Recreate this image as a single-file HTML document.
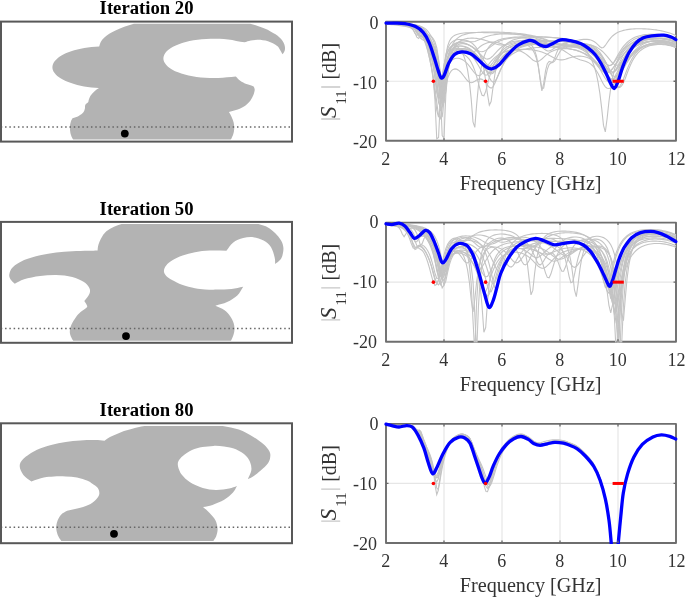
<!DOCTYPE html>
<html><head><meta charset="utf-8"><title>Figure</title>
<style>html,body{margin:0;padding:0;background:#fff;width:685px;height:597px;overflow:hidden}
svg{display:block;filter:blur(0.45px);font-family:"Liberation Serif",serif}</style></head>
<body>
<svg width="685" height="597" viewBox="0 0 685 597">
<text x="146.6" y="13.7" text-anchor="middle" font-family="Liberation Serif" font-weight="bold" font-size="18.7" fill="#000">Iteration 20</text>
<path d="M99.2 46.4C99.71 44.96 99.9 43.5 100.72 42.07C101.53 40.65 102.69 39.24 104.11 37.87C105.53 36.5 107.26 35.15 109.24 33.86C111.22 32.57 113.5 31.31 116.01 30.13C118.51 28.95 121.29 27.81 124.27 26.76C127.25 25.7 130.68 24.79 133.88 23.8L250.12 23.8C252.67 24.56 255.34 25.27 257.75 26.08C260.16 26.88 262.45 27.73 264.58 28.62C266.71 29.5 268.71 30.44 270.53 31.39C272.36 32.35 274.03 33.35 275.53 34.37C277.03 35.39 278.37 36.45 279.52 37.52C280.67 38.58 281.65 39.68 282.45 40.79C283.24 41.89 283.85 43.02 284.28 44.14C284.7 45.27 284.94 46.41 284.99 47.55C285.04 48.68 284.97 49.83 284.58 50.96C284.18 52.08 283.26 53.19 282.6 54.3C281.57 52.53 280.47 50.43 279.5 49C278.53 47.57 278.72 46.98 276.8 45.7C274.88 44.42 271.17 42.28 268 41.3C264.83 40.32 260.97 39.85 257.8 39.8C254.63 39.75 251.2 40.58 249 41C246.8 41.42 246.07 41.87 244.6 42.3C241.82 41.83 239.02 41.34 236.27 40.88C233.52 40.43 230.89 39.91 228.09 39.57C225.28 39.23 222.36 38.98 219.44 38.84C216.53 38.7 213.54 38.67 210.61 38.73C207.68 38.8 204.72 38.96 201.87 39.23C199.01 39.5 196.17 39.87 193.48 40.33C190.79 40.79 188.16 41.35 185.72 41.99C183.28 42.63 180.94 43.37 178.82 44.17C176.7 44.97 174.73 45.86 173 46.79C171.27 47.73 169.73 48.74 168.45 49.78C167.16 50.81 166.09 51.92 165.29 53.03C164.49 54.14 163.94 55.3 163.65 56.45C163.36 57.6 163.32 58.78 163.55 59.93C163.78 61.08 164.27 62.25 165.01 63.36C165.75 64.48 166.76 65.59 167.99 66.64C169.22 67.69 170.7 68.72 172.38 69.66C174.06 70.61 175.98 71.52 178.05 72.33C180.13 73.15 182.42 73.91 184.83 74.57C187.24 75.23 189.84 75.81 192.5 76.3C195.17 76.78 197.99 77.18 200.83 77.47C203.67 77.76 206.62 77.95 209.54 78.04C212.47 78.13 215.46 78.12 218.38 78C221.3 77.89 224.16 77.6 227.06 77.35C229.96 77.1 232.89 76.78 235.8 76.5C237.27 77.9 238.42 79.43 240.2 80.7C241.98 81.97 244.45 83.23 246.5 84.1C248.55 84.97 251.25 85.42 252.5 85.9C253.75 86.38 253.5 86.63 254 87C254.23 88.03 254.8 88.75 254.7 90.1C254.6 91.45 254.13 93.32 253.4 95.1C252.67 96.88 251.67 99.02 250.3 100.8C248.93 102.58 247.3 104.33 245.2 105.8C243.1 107.27 240.42 108.55 237.7 109.6C234.98 110.65 231.83 111.27 228.9 112.1C229.73 113.57 230.6 114.72 231.4 116.5C232.2 118.28 233.23 120.7 233.7 122.8C234.17 124.9 234.27 127.22 234.2 129.1C234.13 130.98 233.73 132.58 233.3 134.1C232.87 135.62 232.05 137.28 231.6 138.2C231.15 139.12 230.93 139.13 230.6 139.6L73.2 139.6C72.8 138.93 72.47 138.7 72 137.6C71.53 136.5 70.75 134.8 70.4 133C70.05 131.2 69.82 128.7 69.9 126.8C69.98 124.9 70.47 123.02 70.9 121.6C71.33 120.18 71.97 119.4 72.5 118.3C74.57 117.5 76.88 116.92 78.7 115.9C80.52 114.88 82.37 113.42 83.4 112.2C84.43 110.98 84.63 109.63 84.9 108.6C85.17 107.57 84.9 106.7 85 106C85.1 105.3 85.33 104.93 85.5 104.4C86.37 103.7 87.55 103.07 88.1 102.3C88.65 101.53 88.37 100.92 88.8 99.8C89.23 98.68 89.78 97 90.7 95.6C91.62 94.2 92.92 92.65 94.3 91.4C95.68 90.15 97.43 89.2 99 88.1C96.46 87.89 93.86 87.76 91.38 87.48C88.9 87.2 86.45 86.83 84.1 86.4C81.75 85.98 79.46 85.49 77.29 84.94C75.12 84.39 73.03 83.78 71.09 83.12C69.14 82.46 67.3 81.74 65.61 80.98C63.93 80.22 62.37 79.41 60.98 78.57C59.59 77.72 58.34 76.83 57.27 75.92C56.21 75.01 55.3 74.06 54.58 73.1C53.85 72.15 53.3 71.16 52.94 70.17C52.58 69.18 52.4 68.17 52.4 67.17C52.4 66.17 52.59 65.16 52.96 64.17C53.33 63.18 53.89 62.2 54.62 61.24C55.35 60.28 56.27 59.33 57.34 58.42C58.41 57.51 59.67 56.62 61.06 55.78C62.46 54.94 64.02 54.13 65.72 53.37C67.41 52.61 69.26 51.89 71.21 51.24C73.16 50.58 75.25 49.97 77.43 49.42C79.6 48.88 81.9 48.39 84.25 47.97C86.6 47.55 89.04 47.16 91.53 46.9C94.02 46.64 96.64 46.57 99.2 46.4Z" fill="#b3b3b3"/>
<path d="M0.75 127H291" stroke="#666" stroke-width="1.5" stroke-dasharray="1.5 2.795" fill="none"/>
<circle cx="124.8" cy="133.6" r="3.9" fill="#000"/>
<rect x="1.0" y="21.6" width="291.0" height="120" fill="none" stroke="#585858" stroke-width="2.0"/>
<text x="146.6" y="214.7" text-anchor="middle" font-family="Liberation Serif" font-weight="bold" font-size="18.7" fill="#000">Iteration 50</text>
<path d="M97.6 250.4C97.73 249.07 97.67 247.87 98 246.4C98.33 244.93 98.85 243.33 99.6 241.6C100.35 239.87 101.32 237.75 102.5 236C103.68 234.25 104.78 232.65 106.7 231.1C108.62 229.55 111.53 227.87 114 226.7C116.47 225.53 119 224.97 121.5 224.1L258.5 224.1C261.67 225.2 265.2 225.88 268 227.4C270.8 228.92 273.12 231.02 275.3 233.2C277.48 235.38 279.75 238.07 281.1 240.5C282.45 242.93 283.2 245.23 283.4 247.8C283.6 250.37 282.92 253.82 282.3 255.9C281.68 257.98 280.88 258.95 279.7 260.3C278.52 261.65 276.7 262.77 275.2 264C275 261.77 275.32 260.12 274.6 257.3C273.88 254.48 272.73 249.9 270.9 247.1C269.07 244.3 266.52 242.15 263.6 240.5C260.68 238.85 256.8 237.6 253.4 237.2C250 236.8 246.6 237.18 243.2 238.1C239.8 239.02 235.8 240.58 233 242.7C230.2 244.82 228.6 248.1 226.4 250.8C220.8 250.73 214.83 250.37 209.6 250.6C204.37 250.83 199.5 251.4 195 252.2C190.5 253 186.37 254.05 182.6 255.4C178.83 256.75 175.13 258.62 172.4 260.3C169.67 261.98 167.62 263.68 166.2 265.5C164.78 267.32 163.85 269.42 163.9 271.2C163.95 272.98 165.07 274.68 166.5 276.2C167.93 277.72 169.92 278.87 172.5 280.3C175.08 281.73 178.25 283.47 182 284.8C185.75 286.13 191.17 287.53 195 288.3C198.83 289.07 201.35 289.18 205 289.4C208.65 289.62 212.48 289.68 216.9 289.6C221.32 289.52 227.12 289.38 231.5 288.9C235.88 288.42 239.3 287.43 243.2 286.7C241.23 289.6 239.98 292.85 237.3 295.4C234.62 297.95 230.75 300.28 227.1 302C223.45 303.72 219.3 304.47 215.4 305.7C218.33 307.13 221.77 308.3 224.2 310C226.63 311.7 228.42 313.7 230 315.9C231.58 318.1 232.97 320.77 233.7 323.2C234.43 325.63 234.52 328.32 234.4 330.5C234.28 332.68 233.57 334.6 233 336.3C232.43 338 231.67 339.23 231 340.7L73.2 340.7C72.63 339.73 72.07 339.27 71.5 337.8C70.93 336.33 69.8 334.1 69.8 331.9C69.8 329.7 70.48 327.03 71.5 324.6C72.52 322.17 74.43 319.35 75.9 317.3C77.37 315.25 78.5 313.95 80.3 312.3C82.1 310.65 85.63 308.62 86.7 307.4C87.77 306.18 87.1 306.07 86.7 305C86.3 303.93 85.1 302.33 84.3 301C85.37 299.67 86.57 298.47 87.5 297C88.43 295.53 89.63 293.8 89.9 292.2C90.17 290.6 90.17 289.13 89.1 287.4C88.03 285.67 86.3 283.55 83.5 281.8C80.7 280.05 76.85 278.03 72.3 276.9C67.75 275.77 61.57 275.13 56.2 275C50.83 274.87 45.45 275.38 40.1 276.1C34.75 276.82 28.32 278.03 24.1 279.3C19.88 280.57 17.9 282.23 14.8 283.7C13.4 282.3 11.52 281.03 10.6 279.5C9.68 277.97 8.93 276.53 9.3 274.5C9.67 272.47 10.33 269.7 12.8 267.3C15.27 264.9 19.55 262.1 24.1 260.1C28.65 258.1 34.75 256.57 40.1 255.3C45.45 254.03 50.83 253.18 56.2 252.5C61.57 251.82 66.95 251.48 72.3 251.2C77.65 250.92 84.08 250.93 88.3 250.8C92.52 250.67 94.5 250.53 97.6 250.4Z" fill="#b3b3b3"/>
<path d="M0.75 328.4H291" stroke="#666" stroke-width="1.5" stroke-dasharray="1.5 2.795" fill="none"/>
<circle cx="126" cy="336.1" r="3.9" fill="#000"/>
<rect x="1.0" y="221.9" width="291.0" height="120.9" fill="none" stroke="#585858" stroke-width="2.0"/>
<text x="146.6" y="415.7" text-anchor="middle" font-family="Liberation Serif" font-weight="bold" font-size="18.7" fill="#000">Iteration 80</text>
<path d="M104.5 440.8C106.33 439.53 107.93 438.13 110 437C112.07 435.87 114.57 435 116.9 434C119.23 433 121.57 431.85 124 431C126.43 430.15 129.17 429.53 131.5 428.9C133.83 428.27 135.83 427.68 138 427.2C140.17 426.72 142.33 426.4 144.5 426L222.7 426C228.07 427.2 233.68 427.78 238.8 429.6C243.92 431.42 249.27 434.47 253.4 436.9C257.53 439.33 260.92 441.77 263.6 444.2C266.28 446.63 268.4 449.32 269.5 451.5C270.6 453.68 270.45 455.35 270.2 457.3C269.95 459.25 269.58 461 268 463.2C266.42 465.4 263.13 468.32 260.7 470.5C258.27 472.68 255.55 474.85 253.4 476.3C251.25 477.75 249.67 478.23 247.8 479.2C248.97 476.27 250.88 473.13 251.3 470.4C251.72 467.67 251.17 465.22 250.3 462.8C249.43 460.38 248.5 458.15 246.1 455.9C243.7 453.65 239.58 450.87 235.9 449.3C232.22 447.73 227.75 447.07 224 446.5C220.25 445.93 217.02 445.8 213.4 445.9C209.78 446 205.87 446.42 202.3 447.1C198.73 447.78 195.2 448.55 192 450C188.8 451.45 185.35 453.97 183.1 455.8C180.85 457.63 179.37 459.37 178.5 461C177.63 462.63 177.72 463.93 177.9 465.6C178.08 467.27 178.83 469.35 179.6 471C180.37 472.65 180.82 473.67 182.5 475.5C184.18 477.33 186.32 479.92 189.7 482C193.08 484.08 198.42 486.68 202.8 488C207.18 489.32 211.62 489.82 216 489.9C220.38 489.98 225.6 489.15 229.1 488.5C232.6 487.85 234.37 486.83 237 486C235.67 488.17 235.13 490.2 233 492.5C230.87 494.8 227.62 497.73 224.2 499.8C220.78 501.87 216.03 503.68 212.5 504.9C208.97 506.12 206.17 506.37 203 507.1C205.2 509.07 207.53 510.8 209.6 513C211.67 515.2 214.07 517.63 215.4 520.3C216.73 522.97 217.47 526.33 217.6 529C217.73 531.67 216.9 534.3 216.2 536.3C215.5 538.3 214.33 539.43 213.4 541L61.3 541C60.1 538.97 58.55 537.13 57.7 534.9C56.85 532.67 56.2 530.03 56.2 527.6C56.2 525.17 56.85 522.5 57.7 520.3C58.55 518.1 59.72 515.98 61.3 514.4C62.88 512.82 65.23 512 67.2 510.8C71.57 509.8 76.42 508.93 80.3 507.8C84.18 506.67 87.8 505.47 90.5 504C93.2 502.53 95.03 500.67 96.5 499C97.97 497.33 99.08 495.82 99.3 494C99.52 492.18 99.02 489.85 97.8 488.1C96.58 486.35 93.7 484.72 92 483.5C90.3 482.28 90.1 481.78 87.6 480.8C85.1 479.82 80.65 478.32 77 477.6C73.35 476.88 69.53 476.68 65.7 476.5C61.87 476.32 57.65 476.32 54 476.5C50.35 476.68 47.57 476.77 43.8 477.6C40.03 478.43 35.53 480.2 31.4 481.5C28.73 479.3 25.35 477.47 23.4 474.9C21.45 472.33 19.7 468.78 19.7 466.1C19.7 463.42 20.6 461.48 23.4 458.8C26.2 456.12 31.88 452.32 36.5 450C41.12 447.68 46.23 446.23 51.1 444.9C55.97 443.57 60.83 442.73 65.7 442C70.57 441.27 75.42 440.82 80.3 440.5C85.18 440.18 90.97 440.05 95 440.1C99.03 440.15 101.33 440.57 104.5 440.8Z" fill="#b3b3b3"/>
<path d="M0.75 527.3H291" stroke="#666" stroke-width="1.5" stroke-dasharray="1.5 2.795" fill="none"/>
<circle cx="114" cy="533.8" r="3.9" fill="#000"/>
<rect x="1.0" y="423.3" width="291.0" height="119.9" fill="none" stroke="#585858" stroke-width="2.0"/>
<clipPath id="pc0"><rect x="382" y="15.7" width="298" height="126"/></clipPath>
<path d="M444 21.7V140.8M502 21.7V140.8M560 21.7V140.8M618 21.7V140.8M386 81.25H676" stroke="#e6e6e6" stroke-width="1.2" fill="none"/>
<path d="M386 21.7V140.8H676V21.7Z" stroke="#6e6e6e" stroke-width="1.9" fill="none" stroke-linejoin="round"/>
<g clip-path="url(#pc0)" fill="none">
<path d="M386 23.01 387.81 23.07 389.62 23.14 391.44 23.21 393.25 23.29 395.06 23.38 396.88 23.48 398.69 23.59 400.5 23.72 402.31 23.85 404.12 24.01 405.94 24.19 407.75 24.4 409.56 24.64 411.38 24.92 413.19 25.26 415 25.66 416.81 26.16 418.62 26.79 420.44 27.61 422.25 28.7 424.06 30.18 425.88 32.2 427.69 34.89 429.5 38.37 431.31 42.7 433.12 48.12 434.94 55.13 436.75 64.55 438.56 77.08 440.38 90.69 442.19 94.51 444 83.56 445.81 70.18 447.62 59.81 449.44 52.43 451.25 47.24 453.06 43.54 454.88 40.85 456.69 38.87 458.5 37.38 460.31 36.24 462.12 35.35 463.94 34.66 465.75 34.1 467.56 33.66 469.38 33.3 471.19 33.01 473 32.78 474.81 32.58 476.62 32.43 478.44 32.31 480.25 32.21 482.06 32.13 483.88 32.08 485.69 32.04 487.5 32.02 489.31 32.01 491.12 32.01 492.94 32.03 494.75 32.05 496.56 32.09 498.38 32.14 500.19 32.2 502 32.27 503.81 32.35 505.62 32.45 507.44 32.55 509.25 32.67 511.06 32.8 512.88 32.94 514.69 33.09 516.5 33.26 518.31 33.45 520.12 33.66 521.94 33.88 523.75 34.12 525.56 34.39 527.38 34.68 529.19 34.99 531 35.33 532.81 35.71 534.62 36.11 536.44 36.55 538.25 37.03 540.06 37.54 541.88 38.09 543.69 38.69 545.5 39.31 547.31 39.98 549.12 40.67 550.94 41.39 552.75 42.12 554.56 42.85 556.38 43.55 558.19 44.23 560 44.84 561.81 45.37 563.62 45.81 565.44 46.15 567.25 46.38 569.06 46.51 570.88 46.56 572.69 46.54 574.5 46.48 576.31 46.41 578.12 46.37 579.94 46.37 581.75 46.45 583.56 46.63 585.38 46.94 587.19 47.4 589 48.04 590.81 48.89 592.62 49.95 594.44 51.27 596.25 52.84 598.06 54.68 599.88 56.74 601.69 58.97 603.5 61.2 605.31 63.24 607.12 64.77 608.94 65.5 610.75 65.24 612.56 63.99 614.38 61.92 616.19 59.34 618 56.55 619.81 53.76 621.62 51.12 623.44 48.71 625.25 46.56 627.06 44.67 628.88 43.02 630.69 41.59 632.5 40.36 634.31 39.31 636.12 38.41 637.94 37.65 639.75 37 641.56 36.46 643.38 36.01 645.19 35.65 647 35.36 648.81 35.13 650.62 34.97 652.44 34.87 654.25 34.83 656.06 34.84 657.88 34.91 659.69 35.03 661.5 35.2 663.31 35.44 665.12 35.73 666.94 36.09 668.75 36.52 670.56 37.03 672.38 37.61 674.19 38.29 676 39.06" stroke="#c4c4c4" stroke-width="1.1"/>
<path d="M386 22.72 387.81 22.76 389.62 22.8 391.44 22.85 393.25 22.9 395.06 22.96 396.88 23.02 398.69 23.09 400.5 23.16 402.31 23.26 404.12 23.37 405.94 23.53 407.75 23.79 409.56 24.26 411.38 25.15 413.19 26.79 415 29.3 416.81 32.13 418.62 34.44 420.44 35.96 422.25 36.95 424.06 37.74 425.88 38.54 427.69 39.53 429.5 40.85 431.31 42.77 433.12 45.69 434.94 50.44 436.75 58.63 438.56 73.09 440.38 93.15 442.19 89.92 444 70.56 445.81 58.27 447.62 51.68 449.44 48.19 451.25 46.42 453.06 45.72 454.88 45.75 456.69 46.4 458.5 47.66 460.31 49.59 462.12 52.38 463.94 56.33 465.75 61.92 467.56 69.92 469.38 81.61 471.19 98.91 473 122.01 474.81 127.37 476.62 104.84 478.44 85.51 480.25 72.33 482.06 63.29 483.88 56.93 485.69 52.35 487.5 48.98 489.31 46.45 491.12 44.52 492.94 43.02 494.75 41.84 496.56 40.9 498.38 40.13 500.19 39.51 502 39 503.81 38.58 505.62 38.23 507.44 37.93 509.25 37.69 511.06 37.48 512.88 37.31 514.69 37.16 516.5 37.04 518.31 36.94 520.12 36.86 521.94 36.8 523.75 36.75 525.56 36.71 527.38 36.69 529.19 36.68 531 36.68 532.81 36.69 534.62 36.71 536.44 36.74 538.25 36.78 540.06 36.83 541.88 36.89 543.69 36.97 545.5 37.05 547.31 37.14 549.12 37.24 550.94 37.36 552.75 37.49 554.56 37.64 556.38 37.8 558.19 37.98 560 38.17 561.81 38.39 563.62 38.63 565.44 38.9 567.25 39.19 569.06 39.51 570.88 39.88 572.69 40.28 574.5 40.72 576.31 41.22 578.12 41.78 579.94 42.41 581.75 43.11 583.56 43.9 585.38 44.79 587.19 45.8 589 46.95 590.81 48.24 592.62 49.71 594.44 51.37 596.25 53.24 598.06 55.34 599.88 57.66 601.69 60.19 603.5 62.87 605.31 65.58 607.12 68.15 608.94 70.32 610.75 71.78 612.56 72.28 614.38 71.68 616.19 70.09 618 67.73 619.81 64.92 621.62 61.94 623.44 58.98 625.25 56.19 627.06 53.64 628.88 51.34 630.69 49.31 632.5 47.53 634.31 45.98 636.12 44.63 637.94 43.48 639.75 42.49 641.56 41.65 643.38 40.94 645.19 40.34 647 39.85 648.81 39.45 650.62 39.14 652.44 38.9 654.25 38.74 656.06 38.65 657.88 38.62 659.69 38.66 661.5 38.76 663.31 38.93 665.12 39.17 666.94 39.48 668.75 39.87 670.56 40.33 672.38 40.88 674.19 41.52 676 42.27" stroke="#c4c4c4" stroke-width="1.1"/>
<path d="M386 23.1 387.81 23.16 389.62 23.22 391.44 23.29 393.25 23.37 395.06 23.45 396.88 23.54 398.69 23.65 400.5 23.76 402.31 23.88 404.12 24.02 405.94 24.18 407.75 24.36 409.56 24.56 411.38 24.8 413.19 25.09 415 25.44 416.81 25.87 418.62 26.43 420.44 27.18 422.25 28.22 424.06 29.68 425.88 31.74 427.69 34.53 429.5 38.05 431.31 42.25 433.12 47.18 434.94 53.28 436.75 61.53 438.56 73.49 440.38 90.58 442.19 106.44 444 98.61 445.81 80.65 447.62 67.39 449.44 58.77 451.25 53.2 453.06 49.56 454.88 47.16 456.69 45.59 458.5 44.59 460.31 44.02 462.12 43.77 463.94 43.78 465.75 44.04 467.56 44.52 469.38 45.22 471.19 46.14 473 47.3 474.81 48.69 476.62 50.31 478.44 52.12 480.25 54.05 482.06 55.93 483.88 57.57 485.69 58.69 487.5 59.08 489.31 58.65 491.12 57.48 492.94 55.8 494.75 53.86 496.56 51.87 498.38 49.99 500.19 48.28 502 46.78 503.81 45.49 505.62 44.39 507.44 43.48 509.25 42.72 511.06 42.11 512.88 41.63 514.69 41.26 516.5 41 518.31 40.86 520.12 40.82 521.94 40.91 523.75 41.14 525.56 41.55 527.38 42.2 529.19 43.17 531 44.64 532.81 46.87 534.62 50.36 536.44 56 538.25 65.27 540.06 79.31 541.88 90.81 543.69 83.44 545.5 70.95 547.31 63.72 549.12 61.42 550.94 62.07 552.75 62.06 554.56 58.44 556.38 53.33 558.19 49.21 560 46.45 561.81 44.68 563.62 43.56 565.44 42.87 567.25 42.47 569.06 42.28 570.88 42.26 572.69 42.36 574.5 42.58 576.31 42.91 578.12 43.35 579.94 43.88 581.75 44.53 583.56 45.3 585.38 46.2 587.19 47.25 589 48.46 590.81 49.85 592.62 51.45 594.44 53.26 596.25 55.31 598.06 57.6 599.88 60.12 601.69 62.82 603.5 65.6 605.31 68.28 607.12 70.64 608.94 72.37 610.75 73.18 612.56 72.93 614.38 71.65 616.19 69.56 618 66.95 619.81 64.11 621.62 61.26 623.44 58.55 625.25 56.05 627.06 53.79 628.88 51.79 630.69 50.02 632.5 48.48 634.31 47.15 636.12 46 637.94 45 639.75 44.16 641.56 43.43 643.38 42.82 645.19 42.31 647 41.89 648.81 41.56 650.62 41.3 652.44 41.1 654.25 40.98 656.06 40.92 657.88 40.92 659.69 40.98 661.5 41.1 663.31 41.29 665.12 41.54 666.94 41.87 668.75 42.26 670.56 42.73 672.38 43.29 674.19 43.94 676 44.69" stroke="#c4c4c4" stroke-width="1.1"/>
<path d="M386 22.84 387.81 22.88 389.62 22.92 391.44 22.97 393.25 23.02 395.06 23.07 396.88 23.13 398.69 23.19 400.5 23.26 402.31 23.35 404.12 23.44 405.94 23.57 407.75 23.77 409.56 24.1 411.38 24.73 413.19 25.95 415 28.08 416.81 31.04 418.62 34 420.44 36.17 422.25 37.53 424.06 38.44 425.88 39.19 427.69 40.01 429.5 41.03 431.31 42.45 433.12 44.53 434.94 47.77 436.75 53.17 438.56 62.73 440.38 80.05 442.19 102.01 444 89.88 445.81 69.09 447.62 57.28 449.44 50.9 451.25 47.32 453.06 45.26 454.88 44.05 456.69 43.38 458.5 43.05 460.31 42.99 462.12 43.13 463.94 43.44 465.75 43.92 467.56 44.56 469.38 45.37 471.19 46.38 473 47.6 474.81 49.06 476.62 50.78 478.44 52.8 480.25 55.1 482.06 57.64 483.88 60.3 485.69 62.86 487.5 64.98 489.31 66.26 491.12 66.42 492.94 65.42 494.75 63.51 496.56 61.08 498.38 58.49 500.19 55.99 502 53.71 503.81 51.72 505.62 50.01 507.44 48.58 509.25 47.4 511.06 46.43 512.88 45.65 514.69 45.05 516.5 44.61 518.31 44.32 520.12 44.17 521.94 44.18 523.75 44.36 525.56 44.74 527.38 45.38 529.19 46.37 531 47.85 532.81 50.05 534.62 53.38 536.44 58.51 538.25 66.39 540.06 77.68 541.88 88.77 543.69 88.08 545.5 77.92 547.31 69.33 549.12 64.63 550.94 62.87 552.75 62.4 554.56 61.2 556.38 58.35 558.19 54.8 560 51.66 561.81 49.29 563.62 47.63 565.44 46.5 567.25 45.77 569.06 45.32 570.88 45.09 572.69 45.03 574.5 45.11 576.31 45.33 578.12 45.66 579.94 46.11 581.75 46.68 583.56 47.37 585.38 48.19 587.19 49.16 589 50.29 590.81 51.61 592.62 53.13 594.44 54.89 596.25 56.9 598.06 59.2 599.88 61.78 601.69 64.65 603.5 67.74 605.31 70.96 607.12 74.08 608.94 76.77 610.75 78.6 612.56 79.17 614.38 78.3 616.19 76.12 618 72.99 619.81 69.36 621.62 65.6 623.44 61.96 625.25 58.59 627.06 55.53 628.88 52.82 630.69 50.44 632.5 48.37 634.31 46.57 636.12 45.03 637.94 43.7 639.75 42.57 641.56 41.6 643.38 40.78 645.19 40.09 647 39.52 648.81 39.05 650.62 38.68 652.44 38.39 654.25 38.18 656.06 38.05 657.88 37.98 659.69 37.99 661.5 38.07 663.31 38.21 665.12 38.42 666.94 38.71 668.75 39.08 670.56 39.52 672.38 40.06 674.19 40.68 676 41.41" stroke="#c4c4c4" stroke-width="1.1"/>
<path d="M386 23.63 387.81 23.72 389.62 23.83 391.44 23.94 393.25 24.06 395.06 24.2 396.88 24.36 398.69 24.53 400.5 24.72 402.31 24.94 404.12 25.18 405.94 25.47 407.75 25.8 409.56 26.19 411.38 26.66 413.19 27.23 415 27.96 416.81 28.91 418.62 30.2 420.44 32 422.25 34.57 424.06 38.23 425.88 43.29 427.69 49.84 429.5 57.81 431.31 67.25 433.12 78.78 434.94 93.44 436.75 110.28 438.56 117.22 440.38 105.24 442.19 90.37 444 79.3 445.81 71.71 447.62 66.58 449.44 63.13 451.25 60.84 453.06 59.38 454.88 58.54 456.69 58.2 458.5 58.26 460.31 58.7 462.12 59.49 463.94 60.62 465.75 62.11 467.56 63.94 469.38 66.09 471.19 68.49 473 70.95 474.81 73.22 476.62 74.89 478.44 75.61 480.25 75.17 482.06 73.65 483.88 71.38 485.69 68.75 487.5 66.07 489.31 63.54 491.12 61.27 492.94 59.28 494.75 57.58 496.56 56.12 498.38 54.9 500.19 53.86 502 52.98 503.81 52.25 505.62 51.63 507.44 51.12 509.25 50.69 511.06 50.34 512.88 50.05 514.69 49.82 516.5 49.64 518.31 49.51 520.12 49.43 521.94 49.38 523.75 49.38 525.56 49.43 527.38 49.51 529.19 49.64 531 49.81 532.81 50.03 534.62 50.31 536.44 50.65 538.25 51.05 540.06 51.53 541.88 52.09 543.69 52.74 545.5 53.48 547.31 54.31 549.12 55.23 550.94 56.2 552.75 57.19 554.56 58.14 556.38 58.95 558.19 59.56 560 59.88 561.81 59.9 563.62 59.65 565.44 59.19 567.25 58.61 569.06 57.99 570.88 57.42 572.69 56.92 574.5 56.54 576.31 56.28 578.12 56.15 579.94 56.16 581.75 56.3 583.56 56.58 585.38 57 587.19 57.57 589 58.29 590.81 59.17 592.62 60.23 594.44 61.48 596.25 62.94 598.06 64.62 599.88 66.52 601.69 68.65 603.5 70.97 605.31 73.41 607.12 75.84 608.94 78.08 610.75 79.84 612.56 80.83 614.38 80.81 616.19 79.7 618 77.63 619.81 74.86 621.62 71.72 623.44 68.46 625.25 65.29 627.06 62.33 628.88 59.63 630.69 57.21 632.5 55.08 634.31 53.22 636.12 51.6 637.94 50.2 639.75 49.01 641.56 47.98 643.38 47.11 645.19 46.38 647 45.77 648.81 45.27 650.62 44.87 652.44 44.56 654.25 44.33 656.06 44.17 657.88 44.09 659.69 44.09 661.5 44.15 663.31 44.28 665.12 44.49 666.94 44.77 668.75 45.13 670.56 45.57 672.38 46.09 674.19 46.72 676 47.44" stroke="#c4c4c4" stroke-width="1.1"/>
<path d="M386 22.34 387.81 22.36 389.62 22.38 391.44 22.41 393.25 22.44 395.06 22.47 396.88 22.5 398.69 22.54 400.5 22.59 402.31 22.64 404.12 22.73 405.94 22.86 407.75 23.11 409.56 23.61 411.38 24.58 413.19 26.2 415 28.27 416.81 30.14 418.62 31.41 420.44 32.19 422.25 32.71 424.06 33.17 425.88 33.67 427.69 34.31 429.5 35.2 431.31 36.5 433.12 38.51 434.94 41.83 436.75 47.72 438.56 59.07 440.38 81.7 442.19 102.24 444 74.93 445.81 55.67 447.62 46.08 449.44 41.02 451.25 38.14 453.06 36.38 454.88 35.24 456.69 34.48 458.5 33.94 460.31 33.56 462.12 33.27 463.94 33.06 465.75 32.91 467.56 32.79 469.38 32.7 471.19 32.64 473 32.6 474.81 32.57 476.62 32.55 478.44 32.55 480.25 32.55 482.06 32.56 483.88 32.59 485.69 32.62 487.5 32.65 489.31 32.7 491.12 32.75 492.94 32.8 494.75 32.87 496.56 32.94 498.38 33.02 500.19 33.1 502 33.2 503.81 33.3 505.62 33.42 507.44 33.54 509.25 33.68 511.06 33.83 512.88 33.99 514.69 34.17 516.5 34.36 518.31 34.58 520.12 34.81 521.94 35.07 523.75 35.36 525.56 35.68 527.38 36.03 529.19 36.41 531 36.84 532.81 37.31 534.62 37.84 536.44 38.42 538.25 39.06 540.06 39.76 541.88 40.53 543.69 41.36 545.5 42.25 547.31 43.18 549.12 44.14 550.94 45.09 552.75 46 554.56 46.81 556.38 47.49 558.19 47.97 560 48.24 561.81 48.28 563.62 48.11 565.44 47.75 567.25 47.26 569.06 46.7 570.88 46.11 572.69 45.54 574.5 45.03 576.31 44.6 578.12 44.28 579.94 44.07 581.75 44 583.56 44.07 585.38 44.29 587.19 44.7 589 45.29 590.81 46.1 592.62 47.15 594.44 48.49 596.25 50.13 598.06 52.1 599.88 54.4 601.69 57 603.5 59.74 605.31 62.38 607.12 64.5 608.94 65.61 610.75 65.39 612.56 63.81 614.38 61.21 616.19 58.08 618 54.82 619.81 51.72 621.62 48.91 623.44 46.44 625.25 44.3 627.06 42.48 628.88 40.93 630.69 39.63 632.5 38.53 634.31 37.61 636.12 36.84 637.94 36.2 639.75 35.67 641.56 35.24 643.38 34.9 645.19 34.63 647 34.43 648.81 34.29 650.62 34.21 652.44 34.19 654.25 34.21 656.06 34.28 657.88 34.41 659.69 34.58 661.5 34.81 663.31 35.09 665.12 35.43 666.94 35.83 668.75 36.3 670.56 36.84 672.38 37.46 674.19 38.17 676 38.97" stroke="#c4c4c4" stroke-width="1.1"/>
<path d="M386 22.9 387.81 22.95 389.62 23.01 391.44 23.07 393.25 23.13 395.06 23.21 396.88 23.28 398.69 23.37 400.5 23.47 402.31 23.57 404.12 23.69 405.94 23.83 407.75 23.98 409.56 24.16 411.38 24.36 413.19 24.59 415 24.87 416.81 25.21 418.62 25.64 420.44 26.17 422.25 26.89 424.06 27.85 425.88 29.19 427.69 31.03 429.5 33.48 431.31 36.59 433.12 40.38 434.94 45.06 436.75 51.19 438.56 59.86 440.38 72.66 442.19 90.56 444 103.24 445.81 91.04 447.62 73.66 449.44 61.49 451.25 53.65 453.06 48.61 454.88 45.35 456.69 43.26 458.5 41.96 460.31 41.23 462.12 40.91 463.94 40.9 465.75 41.1 467.56 41.4 469.38 41.7 471.19 41.87 473 41.8 474.81 41.45 476.62 40.85 478.44 40.07 480.25 39.21 482.06 38.36 483.88 37.56 485.69 36.85 487.5 36.24 489.31 35.72 491.12 35.28 492.94 34.93 494.75 34.64 496.56 34.4 498.38 34.22 500.19 34.07 502 33.97 503.81 33.9 505.62 33.86 507.44 33.84 509.25 33.85 511.06 33.89 512.88 33.95 514.69 34.03 516.5 34.14 518.31 34.27 520.12 34.42 521.94 34.6 523.75 34.8 525.56 35.03 527.38 35.29 529.19 35.58 531 35.91 532.81 36.27 534.62 36.67 536.44 37.12 538.25 37.6 540.06 38.14 541.88 38.71 543.69 39.34 545.5 40.01 547.31 40.71 549.12 41.44 550.94 42.19 552.75 42.93 554.56 43.63 556.38 44.29 558.19 44.85 560 45.31 561.81 45.63 563.62 45.8 565.44 45.83 567.25 45.72 569.06 45.51 570.88 45.22 572.69 44.89 574.5 44.54 576.31 44.22 578.12 43.94 579.94 43.74 581.75 43.63 583.56 43.62 585.38 43.75 587.19 44.02 589 44.47 590.81 45.1 592.62 45.96 594.44 47.08 596.25 48.49 598.06 50.26 599.88 52.42 601.69 55.01 603.5 58.05 605.31 61.48 607.12 65.11 608.94 68.54 610.75 71.14 612.56 72.24 614.38 71.46 616.19 69.05 618 65.63 619.81 61.87 621.62 58.23 623.44 54.93 625.25 52.05 627.06 49.6 628.88 47.54 630.69 45.81 632.5 44.37 634.31 43.17 636.12 42.17 637.94 41.34 639.75 40.66 641.56 40.1 643.38 39.64 645.19 39.27 647 38.99 648.81 38.77 650.62 38.63 652.44 38.54 654.25 38.51 656.06 38.54 657.88 38.62 659.69 38.75 661.5 38.94 663.31 39.19 665.12 39.5 666.94 39.88 668.75 40.32 670.56 40.84 672.38 41.43 674.19 42.12 676 42.91" stroke="#c4c4c4" stroke-width="1.1"/>
<path d="M386 22.98 387.81 23.03 389.62 23.08 391.44 23.14 393.25 23.2 395.06 23.27 396.88 23.34 398.69 23.43 400.5 23.52 402.31 23.64 404.12 23.79 405.94 24 407.75 24.33 409.56 24.89 411.38 25.88 413.19 27.57 415 30.08 416.81 33.09 418.62 35.88 420.44 37.98 422.25 39.43 424.06 40.52 425.88 41.51 427.69 42.62 429.5 44.04 431.31 46.02 433.12 48.94 434.94 53.53 436.75 61.15 438.56 74.26 440.38 94.92 442.19 103.19 444 83.1 445.81 67.02 447.62 57.82 449.44 52.58 451.25 49.53 453.06 47.73 454.88 46.7 456.69 46.16 458.5 45.96 460.31 46.03 462.12 46.32 463.94 46.8 465.75 47.47 467.56 48.32 469.38 49.38 471.19 50.65 473 52.17 474.81 53.94 476.62 55.99 478.44 58.32 480.25 60.92 482.06 63.72 483.88 66.58 485.69 69.25 487.5 71.4 489.31 72.66 491.12 72.77 492.94 71.71 494.75 69.68 496.56 67.06 498.38 64.19 500.19 61.33 502 58.65 503.81 56.21 505.62 54.05 507.44 52.16 509.25 50.52 511.06 49.09 512.88 47.87 514.69 46.81 516.5 45.89 518.31 45.1 520.12 44.42 521.94 43.83 523.75 43.31 525.56 42.87 527.38 42.48 529.19 42.15 531 41.86 532.81 41.61 534.62 41.4 536.44 41.22 538.25 41.07 540.06 40.95 541.88 40.86 543.69 40.79 545.5 40.74 547.31 40.71 549.12 40.71 550.94 40.73 552.75 40.77 554.56 40.84 556.38 40.93 558.19 41.04 560 41.19 561.81 41.37 563.62 41.58 565.44 41.83 567.25 42.13 569.06 42.47 570.88 42.88 572.69 43.36 574.5 43.92 576.31 44.59 578.12 45.37 579.94 46.31 581.75 47.43 583.56 48.78 585.38 50.41 587.19 52.42 589 54.91 590.81 58.02 592.62 61.94 594.44 66.97 596.25 73.48 598.06 82.04 599.88 93.39 601.69 108.31 603.5 125.39 605.31 131.94 607.12 118.51 608.94 101.51 610.75 87.89 612.56 77.59 614.38 69.76 616.19 63.72 618 59 619.81 55.27 621.62 52.28 623.44 49.86 625.25 47.9 627.06 46.28 628.88 44.95 630.69 43.85 632.5 42.94 634.31 42.19 636.12 41.57 637.94 41.06 639.75 40.64 641.56 40.31 643.38 40.06 645.19 39.87 647 39.73 648.81 39.65 650.62 39.62 652.44 39.64 654.25 39.71 656.06 39.82 657.88 39.97 659.69 40.18 661.5 40.43 663.31 40.74 665.12 41.1 666.94 41.52 668.75 42 670.56 42.56 672.38 43.19 674.19 43.91 676 44.73" stroke="#c4c4c4" stroke-width="1.1"/>
<path d="M386 23.35 387.81 23.44 389.62 23.53 391.44 23.64 393.25 23.75 395.06 23.87 396.88 24.01 398.69 24.17 400.5 24.35 402.31 24.55 404.12 24.77 405.94 25.03 407.75 25.33 409.56 25.69 411.38 26.11 413.19 26.61 415 27.22 416.81 27.99 418.62 28.96 420.44 30.24 422.25 31.96 424.06 34.32 425.88 37.57 427.69 42.01 429.5 47.93 431.31 55.64 433.12 65.71 434.94 78.7 436.75 92.99 438.56 98.47 440.38 88.56 442.19 75.28 444 64.86 445.81 57.5 447.62 52.4 449.44 48.86 451.25 46.41 453.06 44.72 454.88 43.59 456.69 42.87 458.5 42.48 460.31 42.37 462.12 42.5 463.94 42.85 465.75 43.41 467.56 44.17 469.38 45.11 471.19 46.23 473 47.47 474.81 48.75 476.62 49.96 478.44 50.96 480.25 51.57 482.06 51.68 483.88 51.26 485.69 50.37 487.5 49.15 489.31 47.77 491.12 46.35 492.94 44.99 494.75 43.74 496.56 42.63 498.38 41.67 500.19 40.85 502 40.15 503.81 39.57 505.62 39.09 507.44 38.7 509.25 38.38 511.06 38.14 512.88 37.95 514.69 37.83 516.5 37.76 518.31 37.73 520.12 37.75 521.94 37.82 523.75 37.93 525.56 38.09 527.38 38.29 529.19 38.54 531 38.83 532.81 39.16 534.62 39.54 536.44 39.97 538.25 40.44 540.06 40.95 541.88 41.49 543.69 42.05 545.5 42.61 547.31 43.17 549.12 43.69 550.94 44.14 552.75 44.51 554.56 44.77 556.38 44.9 558.19 44.89 560 44.75 561.81 44.48 563.62 44.1 565.44 43.64 567.25 43.13 569.06 42.59 570.88 42.05 572.69 41.53 574.5 41.03 576.31 40.58 578.12 40.18 579.94 39.85 581.75 39.59 583.56 39.41 585.38 39.34 587.19 39.39 589 39.59 590.81 40 592.62 40.68 594.44 41.7 596.25 43.13 598.06 44.92 599.88 46.74 601.69 47.84 603.5 47.43 605.31 45.48 607.12 42.79 608.94 40.12 610.75 37.83 612.56 35.96 614.38 34.47 616.19 33.28 618 32.32 619.81 31.54 621.62 30.91 623.44 30.39 625.25 29.97 627.06 29.64 628.88 29.37 630.69 29.16 632.5 29 634.31 28.89 636.12 28.81 637.94 28.77 639.75 28.76 641.56 28.79 643.38 28.83 645.19 28.91 647 29.01 648.81 29.14 650.62 29.29 652.44 29.47 654.25 29.68 656.06 29.92 657.88 30.19 659.69 30.5 661.5 30.85 663.31 31.24 665.12 31.68 666.94 32.17 668.75 32.72 670.56 33.33 672.38 34.02 674.19 34.79 676 35.65" stroke="#c4c4c4" stroke-width="1.1"/>
<path d="M386 24.23 387.81 24.36 389.62 24.49 391.44 24.64 393.25 24.8 395.06 24.98 396.88 25.18 398.69 25.4 400.5 25.65 402.31 25.92 404.12 26.23 405.94 26.58 407.75 26.98 409.56 27.45 411.38 28 413.19 28.67 415 29.49 416.81 30.53 418.62 31.89 420.44 33.75 422.25 36.33 424.06 39.92 425.88 44.78 427.69 50.96 429.5 58.26 431.31 66.56 433.12 76.17 434.94 87.84 436.75 102.1 438.56 116.13 440.38 118.63 442.19 107.47 444 94.76 445.81 85.03 447.62 78.26 449.44 73.76 451.25 70.94 453.06 69.4 454.88 68.86 456.69 69.15 458.5 70.15 460.31 71.76 462.12 73.85 463.94 76.26 465.75 78.7 467.56 80.81 469.38 82.21 471.19 82.66 473 82.22 474.81 81.21 476.62 80.07 478.44 79.21 480.25 78.92 482.06 79.38 483.88 80.67 485.69 82.69 487.5 85.12 489.31 87.25 491.12 88.09 492.94 86.86 494.75 83.63 496.56 79.22 498.38 74.55 500.19 70.2 502 66.4 503.81 63.18 505.62 60.51 507.44 58.31 509.25 56.48 511.06 54.97 512.88 53.71 514.69 52.66 516.5 51.77 518.31 51.02 520.12 50.38 521.94 49.84 523.75 49.37 525.56 48.98 527.38 48.64 529.19 48.35 531 48.1 532.81 47.89 534.62 47.71 536.44 47.56 538.25 47.45 540.06 47.35 541.88 47.28 543.69 47.23 545.5 47.21 547.31 47.2 549.12 47.21 550.94 47.24 552.75 47.3 554.56 47.37 556.38 47.46 558.19 47.58 560 47.72 561.81 47.88 563.62 48.07 565.44 48.28 567.25 48.53 569.06 48.81 570.88 49.13 572.69 49.5 574.5 49.9 576.31 50.37 578.12 50.89 579.94 51.47 581.75 52.14 583.56 52.89 585.38 53.75 587.19 54.72 589 55.81 590.81 57.06 592.62 58.48 594.44 60.08 596.25 61.89 598.06 63.91 599.88 66.15 601.69 68.58 603.5 71.15 605.31 73.74 607.12 76.18 608.94 78.19 610.75 79.49 612.56 79.81 614.38 79.03 616.19 77.24 618 74.69 619.81 71.69 621.62 68.51 623.44 65.37 625.25 62.41 627.06 59.7 628.88 57.25 630.69 55.09 632.5 53.19 634.31 51.54 636.12 50.12 637.94 48.89 639.75 47.83 641.56 46.94 643.38 46.18 645.19 45.55 647 45.02 648.81 44.59 650.62 44.26 652.44 44 654.25 43.82 656.06 43.71 657.88 43.67 659.69 43.7 661.5 43.79 663.31 43.95 665.12 44.18 666.94 44.49 668.75 44.86 670.56 45.32 672.38 45.87 674.19 46.5 676 47.24" stroke="#c4c4c4" stroke-width="1.1"/>
<path d="M386 23.42 387.81 23.5 389.62 23.59 391.44 23.69 393.25 23.79 395.06 23.91 396.88 24.04 398.69 24.19 400.5 24.35 402.31 24.53 404.12 24.74 405.94 24.98 407.75 25.26 409.56 25.59 411.38 25.99 413.19 26.48 415 27.1 416.81 27.92 418.62 29.02 420.44 30.57 422.25 32.78 424.06 35.95 425.88 40.38 427.69 46.29 429.5 53.89 431.31 63.76 433.12 77.65 434.94 99.75 436.75 138.83 438.56 137.49 440.38 100.35 442.19 80.25 444 68.63 445.81 61.5 447.62 56.95 449.44 53.98 451.25 52.01 453.06 50.71 454.88 49.89 456.69 49.43 458.5 49.23 460.31 49.27 462.12 49.5 463.94 49.92 465.75 50.53 467.56 51.31 469.38 52.29 471.19 53.48 473 54.88 474.81 56.5 476.62 58.35 478.44 60.39 480.25 62.58 482.06 64.79 483.88 66.85 485.69 68.54 487.5 69.59 489.31 69.83 491.12 69.2 492.94 67.81 494.75 65.89 496.56 63.68 498.38 61.39 500.19 59.18 502 57.12 503.81 55.26 505.62 53.61 507.44 52.16 509.25 50.9 511.06 49.8 512.88 48.85 514.69 48.02 516.5 47.31 518.31 46.69 520.12 46.15 521.94 45.69 523.75 45.28 525.56 44.94 527.38 44.64 529.19 44.38 531 44.16 532.81 43.97 534.62 43.82 536.44 43.69 538.25 43.58 540.06 43.51 541.88 43.45 543.69 43.41 545.5 43.39 547.31 43.4 549.12 43.42 550.94 43.46 552.75 43.52 554.56 43.6 556.38 43.7 558.19 43.82 560 43.97 561.81 44.14 563.62 44.33 565.44 44.55 567.25 44.8 569.06 45.09 570.88 45.41 572.69 45.77 574.5 46.18 576.31 46.65 578.12 47.17 579.94 47.75 581.75 48.42 583.56 49.17 585.38 50.02 587.19 50.99 589 52.1 590.81 53.35 592.62 54.79 594.44 56.43 596.25 58.29 598.06 60.42 599.88 62.82 601.69 65.51 603.5 68.48 605.31 71.66 607.12 74.93 608.94 78.04 610.75 80.64 612.56 82.31 614.38 82.66 616.19 81.58 618 79.24 619.81 76.06 621.62 72.47 623.44 68.8 625.25 65.3 627.06 62.07 628.88 59.17 630.69 56.6 632.5 54.36 634.31 52.41 636.12 50.73 637.94 49.29 639.75 48.05 641.56 46.99 643.38 46.1 645.19 45.35 647 44.72 648.81 44.2 650.62 43.78 652.44 43.46 654.25 43.22 656.06 43.05 657.88 42.97 659.69 42.95 661.5 43.01 663.31 43.13 665.12 43.33 666.94 43.61 668.75 43.96 670.56 44.39 672.38 44.92 674.19 45.54 676 46.26" stroke="#c4c4c4" stroke-width="1.1"/>
<path d="M386 22.97 387.81 23.02 389.62 23.07 391.44 23.13 393.25 23.19 395.06 23.26 396.88 23.34 398.69 23.42 400.5 23.51 402.31 23.61 404.12 23.72 405.94 23.84 407.75 23.98 409.56 24.15 411.38 24.34 413.19 24.58 415 24.87 416.81 25.24 418.62 25.76 420.44 26.49 422.25 27.56 424.06 29.16 425.88 31.49 427.69 34.67 429.5 38.65 431.31 43.15 433.12 48.04 434.94 53.67 436.75 61.13 438.56 72.63 440.38 93 442.19 135.47 444 138.2 445.81 94.96 447.62 74.74 449.44 63.94 451.25 57.72 453.06 53.95 454.88 51.61 456.69 50.15 458.5 49.25 460.31 48.76 462.12 48.56 463.94 48.61 465.75 48.86 467.56 49.31 469.38 49.95 471.19 50.81 473 51.89 474.81 53.24 476.62 54.89 478.44 56.9 480.25 59.32 482.06 62.2 483.88 65.58 485.69 69.4 487.5 73.51 489.31 77.49 491.12 80.63 492.94 82.12 494.75 81.45 496.56 78.84 498.38 75.07 500.19 70.92 502 66.92 503.81 63.31 505.62 60.18 507.44 57.52 509.25 55.29 511.06 53.41 512.88 51.84 514.69 50.52 516.5 49.42 518.31 48.48 520.12 47.69 521.94 47.02 523.75 46.46 525.56 45.97 527.38 45.56 529.19 45.21 531 44.91 532.81 44.65 534.62 44.44 536.44 44.26 538.25 44.12 540.06 44 541.88 43.91 543.69 43.84 545.5 43.79 547.31 43.77 549.12 43.76 550.94 43.78 552.75 43.82 554.56 43.87 556.38 43.94 558.19 44.04 560 44.15 561.81 44.29 563.62 44.45 565.44 44.63 567.25 44.84 569.06 45.08 570.88 45.35 572.69 45.66 574.5 46 576.31 46.39 578.12 46.83 579.94 47.32 581.75 47.88 583.56 48.5 585.38 49.21 587.19 50.01 589 50.91 590.81 51.93 592.62 53.09 594.44 54.41 596.25 55.9 598.06 57.58 599.88 59.47 601.69 61.58 603.5 63.9 605.31 66.39 607.12 68.98 608.94 71.52 610.75 73.81 612.56 75.56 614.38 76.48 616.19 76.34 618 75.12 619.81 72.97 621.62 70.18 623.44 67.05 625.25 63.85 627.06 60.76 628.88 57.87 630.69 55.25 632.5 52.92 634.31 50.86 636.12 49.06 637.94 47.51 639.75 46.17 641.56 45.02 643.38 44.04 645.19 43.22 647 42.53 648.81 41.97 650.62 41.51 652.44 41.15 654.25 40.88 656.06 40.69 657.88 40.59 659.69 40.55 661.5 40.6 663.31 40.71 665.12 40.9 666.94 41.17 668.75 41.52 670.56 41.95 672.38 42.47 674.19 43.09 676 43.81" stroke="#c4c4c4" stroke-width="1.1"/>
<path d="M386 23.46 387.81 23.54 389.62 23.63 391.44 23.73 393.25 23.84 395.06 23.95 396.88 24.08 398.69 24.23 400.5 24.39 402.31 24.57 404.12 24.77 405.94 25 407.75 25.26 409.56 25.57 411.38 25.94 413.19 26.38 415 26.93 416.81 27.64 418.62 28.59 420.44 29.88 422.25 31.72 424.06 34.3 425.88 37.81 427.69 42.3 429.5 47.62 431.31 53.69 433.12 60.83 434.94 69.85 436.75 81.92 438.56 97.61 440.38 110.93 442.19 105.78 444 90.29 445.81 77.3 447.62 68.2 449.44 62 451.25 57.78 453.06 54.91 454.88 52.98 456.69 51.73 458.5 50.99 460.31 50.65 462.12 50.66 463.94 50.97 465.75 51.58 467.56 52.5 469.38 53.73 471.19 55.31 473 57.27 474.81 59.64 476.62 62.4 478.44 65.5 480.25 68.75 482.06 71.81 483.88 74.15 485.69 75.21 487.5 74.66 489.31 72.65 491.12 69.68 492.94 66.31 494.75 62.98 496.56 59.9 498.38 57.19 500.19 54.85 502 52.86 503.81 51.19 505.62 49.78 507.44 48.6 509.25 47.61 511.06 46.78 512.88 46.08 514.69 45.5 516.5 45.02 518.31 44.63 520.12 44.32 521.94 44.07 523.75 43.89 525.56 43.78 527.38 43.73 529.19 43.75 531 43.86 532.81 44.05 534.62 44.35 536.44 44.8 538.25 45.41 540.06 46.25 541.88 47.33 543.69 48.61 545.5 49.92 547.31 50.86 549.12 51.02 550.94 50.37 552.75 49.25 554.56 48.1 556.38 47.14 558.19 46.42 560 45.93 561.81 45.64 563.62 45.5 565.44 45.48 567.25 45.58 569.06 45.76 570.88 46.04 572.69 46.4 574.5 46.85 576.31 47.38 578.12 48.01 579.94 48.75 581.75 49.6 583.56 50.59 585.38 51.73 587.19 53.04 589 54.54 590.81 56.26 592.62 58.24 594.44 60.48 596.25 63.02 598.06 65.85 599.88 68.95 601.69 72.22 603.5 75.5 605.31 78.51 607.12 80.83 608.94 82.04 610.75 81.85 612.56 80.24 614.38 77.52 616.19 74.12 618 70.43 619.81 66.77 621.62 63.31 623.44 60.15 625.25 57.31 627.06 54.8 628.88 52.6 630.69 50.68 632.5 49.03 634.31 47.59 636.12 46.36 637.94 45.31 639.75 44.41 641.56 43.65 643.38 43 645.19 42.47 647 42.03 648.81 41.67 650.62 41.4 652.44 41.2 654.25 41.06 656.06 41 657.88 40.99 659.69 41.05 661.5 41.17 663.31 41.35 665.12 41.6 666.94 41.92 668.75 42.31 670.56 42.79 672.38 43.34 674.19 43.99 676 44.74" stroke="#c4c4c4" stroke-width="1.1"/>
<path d="M386 22.65 387.81 22.69 389.62 22.73 391.44 22.78 393.25 22.82 395.06 22.88 396.88 22.94 398.69 23 400.5 23.08 402.31 23.17 404.12 23.29 405.94 23.46 407.75 23.76 409.56 24.3 411.38 25.35 413.19 27.19 415 29.77 416.81 32.39 418.62 34.36 420.44 35.64 422.25 36.53 424.06 37.33 425.88 38.23 427.69 39.39 429.5 41 431.31 43.38 433.12 47.05 434.94 53.03 436.75 63.12 438.56 79.49 440.38 94.29 442.19 82.77 444 65.69 445.81 54.92 447.62 48.66 449.44 44.94 451.25 42.66 453.06 41.23 454.88 40.34 456.69 39.81 458.5 39.53 460.31 39.46 462.12 39.55 463.94 39.8 465.75 40.21 467.56 40.8 469.38 41.59 471.19 42.63 473 44 474.81 45.79 476.62 48.15 478.44 51.31 480.25 55.58 482.06 61.42 483.88 69.48 485.69 80.47 487.5 94.2 489.31 105.15 491.12 101.47 492.94 87.95 494.75 75.23 496.56 65.6 498.38 58.59 500.19 53.5 502 49.74 503.81 46.94 505.62 44.82 507.44 43.18 509.25 41.91 511.06 40.9 512.88 40.1 514.69 39.45 516.5 38.93 518.31 38.5 520.12 38.15 521.94 37.87 523.75 37.63 525.56 37.45 527.38 37.3 529.19 37.18 531 37.09 532.81 37.03 534.62 36.98 536.44 36.96 538.25 36.96 540.06 36.98 541.88 37.01 543.69 37.06 545.5 37.13 547.31 37.22 549.12 37.32 550.94 37.44 552.75 37.58 554.56 37.74 556.38 37.92 558.19 38.13 560 38.36 561.81 38.62 563.62 38.91 565.44 39.23 567.25 39.59 569.06 40 570.88 40.46 572.69 40.97 574.5 41.54 576.31 42.19 578.12 42.92 579.94 43.75 581.75 44.68 583.56 45.74 585.38 46.94 587.19 48.3 589 49.84 590.81 51.59 592.62 53.56 594.44 55.75 596.25 58.17 598.06 60.78 599.88 63.5 601.69 66.19 603.5 68.64 605.31 70.56 607.12 71.66 608.94 71.71 610.75 70.67 612.56 68.7 614.38 66.07 616.19 63.09 618 60.02 619.81 57.02 621.62 54.22 623.44 51.65 625.25 49.35 627.06 47.3 628.88 45.51 630.69 43.94 632.5 42.57 634.31 41.4 636.12 40.38 637.94 39.52 639.75 38.78 641.56 38.15 643.38 37.63 645.19 37.2 647 36.85 648.81 36.58 650.62 36.38 652.44 36.24 654.25 36.16 656.06 36.14 657.88 36.18 659.69 36.28 661.5 36.44 663.31 36.65 665.12 36.93 666.94 37.28 668.75 37.7 670.56 38.19 672.38 38.77 674.19 39.44 676 40.21" stroke="#c4c4c4" stroke-width="1.1"/>
<path d="M386 23.26 387.81 23.32 389.62 23.39 391.44 23.47 393.25 23.55 395.06 23.64 396.88 23.74 398.69 23.85 400.5 23.97 402.31 24.1 404.12 24.25 405.94 24.42 407.75 24.61 409.56 24.82 411.38 25.07 413.19 25.37 415 25.72 416.81 26.15 418.62 26.69 420.44 27.39 422.25 28.33 424.06 29.61 425.88 31.37 427.69 33.69 429.5 36.61 431.31 40.04 433.12 44.01 434.94 48.75 436.75 54.76 438.56 62.76 440.38 73.32 442.19 85.3 444 91.79 445.81 85.57 447.62 73.88 449.44 63.69 451.25 56.17 453.06 50.84 454.88 47.06 456.69 44.37 458.5 42.43 460.31 41.02 462.12 39.99 463.94 39.26 465.75 38.74 467.56 38.4 469.38 38.19 471.19 38.1 473 38.12 474.81 38.22 476.62 38.41 478.44 38.67 480.25 39.01 482.06 39.42 483.88 39.89 485.69 40.43 487.5 41.03 489.31 41.66 491.12 42.32 492.94 42.98 494.75 43.6 496.56 44.16 498.38 44.6 500.19 44.91 502 45.05 503.81 45.02 505.62 44.82 507.44 44.48 509.25 44.03 511.06 43.51 512.88 42.96 514.69 42.41 516.5 41.88 518.31 41.38 520.12 40.94 521.94 40.56 523.75 40.24 525.56 39.98 527.38 39.78 529.19 39.65 531 39.57 532.81 39.56 534.62 39.6 536.44 39.69 538.25 39.85 540.06 40.05 541.88 40.31 543.69 40.62 545.5 40.98 547.31 41.39 549.12 41.84 550.94 42.34 552.75 42.87 554.56 43.42 556.38 43.99 558.19 44.56 560 45.11 561.81 45.63 563.62 46.09 565.44 46.49 567.25 46.8 569.06 47.03 570.88 47.17 572.69 47.24 574.5 47.24 576.31 47.2 578.12 47.16 579.94 47.12 581.75 47.13 583.56 47.22 585.38 47.41 587.19 47.73 589 48.23 590.81 48.92 592.62 49.87 594.44 51.12 596.25 52.74 598.06 54.79 599.88 57.36 601.69 60.54 603.5 64.41 605.31 68.97 607.12 74.07 608.94 79.23 610.75 83.41 612.56 85.21 614.38 83.76 616.19 79.61 618 74.17 619.81 68.58 621.62 63.45 623.44 59 625.25 55.24 627.06 52.1 628.88 49.5 630.69 47.34 632.5 45.56 634.31 44.07 636.12 42.84 637.94 41.82 639.75 40.97 641.56 40.27 643.38 39.69 645.19 39.22 647 38.84 648.81 38.55 650.62 38.34 652.44 38.19 654.25 38.11 656.06 38.09 657.88 38.12 659.69 38.22 661.5 38.38 663.31 38.6 665.12 38.88 666.94 39.22 668.75 39.64 670.56 40.14 672.38 40.72 674.19 41.38 676 42.15" stroke="#c4c4c4" stroke-width="1.1"/>
<path d="M386 23.47 387.81 23.55 389.62 23.64 391.44 23.74 393.25 23.85 395.06 23.97 396.88 24.1 398.69 24.25 400.5 24.42 402.31 24.6 404.12 24.81 405.94 25.05 407.75 25.33 409.56 25.66 411.38 26.05 413.19 26.52 415 27.11 416.81 27.89 418.62 28.92 420.44 30.36 422.25 32.41 424.06 35.32 425.88 39.3 427.69 44.4 429.5 50.45 431.31 57.38 433.12 65.51 434.94 75.65 436.75 88.63 438.56 102.74 440.38 107.53 442.19 97.23 444 84.04 445.81 73.82 447.62 66.65 449.44 61.74 451.25 58.39 453.06 56.13 454.88 54.66 456.69 53.79 458.5 53.39 460.31 53.39 462.12 53.76 463.94 54.51 465.75 55.67 467.56 57.28 469.38 59.45 471.19 62.3 473 65.97 474.81 70.63 476.62 76.41 478.44 83.19 480.25 90.16 482.06 95.25 483.88 95.76 485.69 91.35 487.5 84.49 489.31 77.52 491.12 71.44 492.94 66.48 494.75 62.52 496.56 59.39 498.38 56.94 500.19 55.02 502 53.52 503.81 52.35 505.62 51.46 507.44 50.8 509.25 50.33 511.06 50.04 512.88 49.92 514.69 49.95 516.5 50.14 518.31 50.49 520.12 51.03 521.94 51.75 523.75 52.69 525.56 53.85 527.38 55.23 529.19 56.78 531 58.41 532.81 59.93 534.62 61.07 536.44 61.59 538.25 61.35 540.06 60.4 541.88 58.97 543.69 57.33 545.5 55.69 547.31 54.19 549.12 52.89 550.94 51.79 552.75 50.9 554.56 50.19 556.38 49.64 558.19 49.22 560 48.93 561.81 48.74 563.62 48.65 565.44 48.64 567.25 48.72 569.06 48.88 570.88 49.12 572.69 49.44 574.5 49.84 576.31 50.33 578.12 50.92 579.94 51.62 581.75 52.43 583.56 53.37 585.38 54.46 587.19 55.69 589 57.1 590.81 58.68 592.62 60.44 594.44 62.36 596.25 64.42 598.06 66.54 599.88 68.62 601.69 70.49 603.5 71.96 605.31 72.82 607.12 72.92 608.94 72.2 610.75 70.74 612.56 68.7 614.38 66.29 616.19 63.72 618 61.14 619.81 58.65 621.62 56.32 623.44 54.19 625.25 52.27 627.06 50.56 628.88 49.05 630.69 47.72 632.5 46.56 634.31 45.56 636.12 44.7 637.94 43.96 639.75 43.34 641.56 42.81 643.38 42.37 645.19 42.02 647 41.73 648.81 41.52 650.62 41.36 652.44 41.27 654.25 41.23 656.06 41.25 657.88 41.32 659.69 41.44 661.5 41.62 663.31 41.86 665.12 42.16 666.94 42.53 668.75 42.96 670.56 43.47 672.38 44.06 674.19 44.74 676 45.52" stroke="#c4c4c4" stroke-width="1.1"/>
<path d="M386 23.38 387.81 23.46 389.62 23.55 391.44 23.65 393.25 23.76 395.06 23.88 396.88 24.02 398.69 24.18 400.5 24.37 402.31 24.6 404.12 24.89 405.94 25.26 407.75 25.78 409.56 26.54 411.38 27.78 413.19 29.98 415 33.48 416.81 35.53 418.62 33.71 420.44 32.39 422.25 32.84 424.06 34.68 425.88 37.57 427.69 41.16 429.5 45.12 431.31 49.4 433.12 54.41 434.94 60.94 436.75 70.31 438.56 84.51 440.38 104.91 442.19 117.26 444 100.16 445.81 81.6 447.62 69.4 449.44 61.68 451.25 56.73 453.06 53.51 454.88 51.42 456.69 50.08 458.5 49.27 460.31 48.86 462.12 48.76 463.94 48.92 465.75 49.32 467.56 49.94 469.38 50.79 471.19 51.87 473 53.2 474.81 54.8 476.62 56.68 478.44 58.86 480.25 61.32 482.06 64.02 483.88 66.84 485.69 69.56 487.5 71.89 489.31 73.44 491.12 73.91 492.94 73.18 494.75 71.41 496.56 68.91 498.38 66.07 500.19 63.17 502 60.41 503.81 57.87 505.62 55.61 507.44 53.62 509.25 51.89 511.06 50.38 512.88 49.09 514.69 47.97 516.5 47 518.31 46.16 520.12 45.43 521.94 44.8 523.75 44.26 525.56 43.78 527.38 43.37 529.19 43.01 531 42.69 532.81 42.42 534.62 42.19 536.44 41.98 538.25 41.81 540.06 41.66 541.88 41.54 543.69 41.44 545.5 41.36 547.31 41.3 549.12 41.26 550.94 41.24 552.75 41.23 554.56 41.25 556.38 41.28 558.19 41.32 560 41.39 561.81 41.47 563.62 41.58 565.44 41.7 567.25 41.85 569.06 42.02 570.88 42.22 572.69 42.44 574.5 42.7 576.31 42.99 578.12 43.33 579.94 43.7 581.75 44.13 583.56 44.62 585.38 45.18 587.19 45.82 589 46.55 590.81 47.38 592.62 48.35 594.44 49.47 596.25 50.77 598.06 52.28 599.88 54.05 601.69 56.12 603.5 58.55 605.31 61.4 607.12 64.7 608.94 68.49 610.75 72.73 612.56 77.23 614.38 81.6 616.19 85.1 618 86.85 619.81 86.21 621.62 83.35 623.44 79.06 625.25 74.24 627.06 69.5 628.88 65.15 630.69 61.31 632.5 57.99 634.31 55.17 636.12 52.78 637.94 50.77 639.75 49.08 641.56 47.66 643.38 46.48 645.19 45.49 647 44.68 648.81 44.02 650.62 43.48 652.44 43.06 654.25 42.75 656.06 42.52 657.88 42.38 659.69 42.33 661.5 42.35 663.31 42.45 665.12 42.63 666.94 42.89 668.75 43.23 670.56 43.66 672.38 44.18 674.19 44.79 676 45.51" stroke="#c4c4c4" stroke-width="1.1"/>
<path d="M386 23.66 387.81 23.75 389.62 23.86 391.44 23.98 393.25 24.11 395.06 24.25 396.88 24.42 398.69 24.61 400.5 24.83 402.31 25.09 404.12 25.41 405.94 25.8 407.75 26.31 409.56 27.01 411.38 28.04 413.19 29.74 415 32.72 416.81 37.12 418.62 38.5 420.44 35.81 422.25 34.33 424.06 34.68 425.88 36.36 427.69 39.21 429.5 43.16 431.31 48.23 433.12 54.59 434.94 62.68 436.75 72.94 438.56 84.39 440.38 91.24 442.19 86.8 444 76.44 445.81 66.96 447.62 59.94 449.44 55.1 451.25 51.89 453.06 49.87 454.88 48.74 456.69 48.3 458.5 48.43 460.31 49.03 462.12 50 463.94 51.2 465.75 52.44 467.56 53.44 469.38 53.91 471.19 53.69 473 52.78 474.81 51.37 476.62 49.72 478.44 48.07 480.25 46.56 482.06 45.27 483.88 44.21 485.69 43.39 487.5 42.79 489.31 42.38 491.12 42.16 492.94 42.1 494.75 42.2 496.56 42.46 498.38 42.85 500.19 43.39 502 44.05 503.81 44.81 505.62 45.63 507.44 46.46 509.25 47.21 511.06 47.79 512.88 48.12 514.69 48.17 516.5 47.93 518.31 47.45 520.12 46.82 521.94 46.13 523.75 45.45 525.56 44.83 527.38 44.3 529.19 43.89 531 43.58 532.81 43.39 534.62 43.31 536.44 43.32 538.25 43.43 540.06 43.61 541.88 43.87 543.69 44.19 545.5 44.55 547.31 44.95 549.12 45.36 550.94 45.76 552.75 46.14 554.56 46.47 556.38 46.73 558.19 46.91 560 46.99 561.81 46.98 563.62 46.88 565.44 46.7 567.25 46.44 569.06 46.14 570.88 45.82 572.69 45.48 574.5 45.16 576.31 44.88 578.12 44.63 579.94 44.45 581.75 44.33 583.56 44.29 585.38 44.34 587.19 44.49 589 44.74 590.81 45.12 592.62 45.62 594.44 46.28 596.25 47.1 598.06 48.11 599.88 49.33 601.69 50.76 603.5 52.44 605.31 54.35 607.12 56.46 608.94 58.71 610.75 60.96 612.56 62.98 614.38 64.5 616.19 65.21 618 64.93 619.81 63.65 621.62 61.57 623.44 58.99 625.25 56.21 627.06 53.44 628.88 50.85 630.69 48.49 632.5 46.39 634.31 44.56 636.12 42.98 637.94 41.63 639.75 40.47 641.56 39.5 643.38 38.68 645.19 37.99 647 37.43 648.81 36.97 650.62 36.61 652.44 36.34 654.25 36.14 656.06 36.02 657.88 35.98 659.69 36 661.5 36.09 663.31 36.25 665.12 36.47 666.94 36.77 668.75 37.15 670.56 37.61 672.38 38.15 674.19 38.79 676 39.53" stroke="#c4c4c4" stroke-width="1.1"/>
<path d="M386 23.37 387.81 23.44 389.62 23.52 391.44 23.61 393.25 23.71 395.06 23.81 396.88 23.93 398.69 24.06 400.5 24.2 402.31 24.36 404.12 24.54 405.94 24.74 407.75 24.98 409.56 25.26 411.38 25.59 413.19 25.99 415 26.49 416.81 27.12 418.62 27.97 420.44 29.15 422.25 30.8 424.06 33.12 425.88 36.3 427.69 40.41 429.5 45.38 431.31 51.27 433.12 58.48 434.94 67.91 436.75 80.48 438.56 94.71 440.38 99.61 442.19 88.84 444 75.57 445.81 65.6 447.62 58.78 449.44 54.19 451.25 51.08 453.06 48.99 454.88 47.6 456.69 46.71 458.5 46.2 460.31 45.99 462.12 46.04 463.94 46.32 465.75 46.82 467.56 47.54 469.38 48.5 471.19 49.72 473 51.21 474.81 53 476.62 55.1 478.44 57.47 480.25 60.03 482.06 62.6 483.88 64.88 485.69 66.48 487.5 67.06 489.31 66.45 491.12 64.82 492.94 62.5 494.75 59.89 496.56 57.27 498.38 54.84 500.19 52.67 502 50.78 503.81 49.17 505.62 47.8 507.44 46.65 509.25 45.69 511.06 44.88 512.88 44.21 514.69 43.65 516.5 43.19 518.31 42.81 520.12 42.51 521.94 42.27 523.75 42.09 525.56 41.96 527.38 41.88 529.19 41.84 531 41.85 532.81 41.89 534.62 41.98 536.44 42.1 538.25 42.27 540.06 42.48 541.88 42.73 543.69 43.03 545.5 43.38 547.31 43.78 549.12 44.24 550.94 44.77 552.75 45.36 554.56 46.02 556.38 46.77 558.19 47.6 560 48.51 561.81 49.5 563.62 50.58 565.44 51.72 567.25 52.91 569.06 54.11 570.88 55.3 572.69 56.42 574.5 57.44 576.31 58.32 578.12 59.06 579.94 59.67 581.75 60.19 583.56 60.68 585.38 61.23 587.19 61.93 589 62.85 590.81 64.1 592.62 65.74 594.44 67.85 596.25 70.46 598.06 73.58 599.88 77.11 601.69 80.8 603.5 84.23 605.31 86.86 607.12 88.29 608.94 88.54 610.75 88.04 612.56 87.41 614.38 87.11 616.19 87.28 618 87.61 619.81 87.43 621.62 85.96 623.44 82.84 625.25 78.45 627.06 73.54 628.88 68.76 630.69 64.46 632.5 60.76 634.31 57.65 636.12 55.07 637.94 52.93 639.75 51.17 641.56 49.72 643.38 48.53 645.19 47.54 647 46.74 648.81 46.09 650.62 45.57 652.44 45.16 654.25 44.86 656.06 44.64 657.88 44.51 659.69 44.47 661.5 44.49 663.31 44.6 665.12 44.78 666.94 45.04 668.75 45.38 670.56 45.8 672.38 46.32 674.19 46.93 676 47.64" stroke="#c4c4c4" stroke-width="1.1"/>
<path d="M386 23.1C389 23.1 391.85 23 395 23.1C398.15 23.2 401.47 23.12 404.9 23.7C408.33 24.28 412.55 25.15 415.6 26.6C418.65 28.05 420.93 29.7 423.2 32.4C425.47 35.1 427.37 38.6 429.2 42.8C431.03 47 432.68 52.92 434.2 57.6C435.72 62.28 437.13 67.5 438.3 70.9C439.47 74.3 440.2 77.33 441.2 78C442.2 78.67 443.05 77.35 444.3 74.9C445.55 72.45 447 66.7 448.7 63.3C450.4 59.9 452.32 56.4 454.5 54.5C456.68 52.6 459.12 52.02 461.8 51.9C464.48 51.78 467.77 52.4 470.6 53.8C473.43 55.2 476.22 58.12 478.8 60.3C481.38 62.48 483.92 65.48 486.1 66.9C488.28 68.32 489.72 69.17 491.9 68.8C494.08 68.43 496.52 67.08 499.2 64.7C501.88 62.32 504.83 57.78 508 54.5C511.17 51.22 514.8 47.32 518.2 45C521.6 42.68 525.73 41.2 528.4 40.6C531.07 40 532.25 40.67 534.2 41.4C536.15 42.13 538.15 44.15 540.1 45C542.05 45.85 543.95 46.67 545.9 46.5C547.85 46.33 549.37 45.1 551.8 44C554.23 42.9 557.42 40.47 560.5 39.9C563.58 39.33 566.97 40 570.3 40.6C573.63 41.2 577.58 42.28 580.5 43.5C583.42 44.72 585.37 46.07 587.8 47.9C590.23 49.73 592.92 51.93 595.1 54.5C597.28 57.07 598.95 59.9 600.9 63.3C602.85 66.7 605.1 71.38 606.8 74.9C608.5 78.42 609.87 82.13 611.1 84.4C612.33 86.67 613.08 88.87 614.2 88.5C615.32 88.13 616.33 85.92 617.8 82.2C619.27 78.48 621.17 71.07 623 66.2C624.83 61.33 626.62 56.9 628.8 53C630.98 49.1 633.67 45.35 636.1 42.8C638.53 40.25 640.72 38.87 643.4 37.7C646.08 36.53 648.8 36.22 652.2 35.8C655.6 35.38 660.65 35 663.8 35.2C666.95 35.4 669.1 36.27 671.1 37C673.1 37.73 674.23 38.73 675.8 39.6" stroke="#0000ff" stroke-width="3.3" stroke-linejoin="round" stroke-linecap="round"/>
</g>
<circle cx="433.4" cy="81.25" r="1.8" fill="#ff0000"/>
<circle cx="485.6" cy="81.25" r="1.8" fill="#ff0000"/>
<path d="M612.6 81.25H623.8" stroke="#ff0000" stroke-width="3"/>
<path d="M444 140.8v-2.5M444 21.7v2.5M502 140.8v-2.5M502 21.7v2.5M560 140.8v-2.5M560 21.7v2.5M618 140.8v-2.5M618 21.7v2.5M386 81.25h2.5M676 81.25h-2.5" stroke="#6a6a6a" stroke-width="1.3" fill="none"/>
<g font-family="Liberation Serif" font-size="18" fill="#333"><text x="378.4" y="28.6" text-anchor="end">0</text><text x="377.1" y="88.65" text-anchor="end">-10</text><text x="377.1" y="148.2" text-anchor="end">-20</text><text x="385.7" y="165.3" text-anchor="middle">2</text><text x="443.7" y="165.3" text-anchor="middle">4</text><text x="501.7" y="165.3" text-anchor="middle">6</text><text x="559.7" y="165.3" text-anchor="middle">8</text><text x="617.7" y="165.3" text-anchor="middle">10</text><text x="676.5" y="165.3" text-anchor="middle">12</text></g>
<text x="530.7" y="189.9" text-anchor="middle" font-family="Liberation Serif" font-size="20.2" fill="#333">Frequency [GHz]</text>
<path d="M321.2 119H340.2M321.2 87H340.2" stroke="#c8c8c8" stroke-width="1.3"/><g transform="translate(336 0) rotate(-90)" font-family="Liberation Serif" fill="#333"><text x="-118.0" y="0.3" font-size="23" font-style="italic">S</text><text x="-104.6" y="10" font-size="15">11</text><text x="-79.6" y="0" font-size="20">[dB]</text></g>
<clipPath id="pc1"><rect x="382" y="216.6" width="298" height="126"/></clipPath>
<path d="M444 222.6V341.7M502 222.6V341.7M560 222.6V341.7M618 222.6V341.7M386 282.15H676" stroke="#e6e6e6" stroke-width="1.2" fill="none"/>
<path d="M386 222.6V341.7H676V222.6Z" stroke="#6e6e6e" stroke-width="1.9" fill="none" stroke-linejoin="round"/>
<g clip-path="url(#pc1)" fill="none">
<path d="M386 224.18 387.81 224.28 389.62 224.4 391.44 224.54 393.25 224.71 395.06 224.9 396.88 225.13 398.69 225.42 400.5 225.79 402.31 226.26 404.12 226.89 405.94 227.78 407.75 229.07 409.56 231.02 411.38 233.99 413.19 238.09 415 241.72 416.81 241.66 418.62 238.96 420.44 236.77 422.25 235.92 424.06 236.17 425.88 237.28 427.69 239.21 429.5 242.11 431.31 246.32 433.12 252.39 434.94 260.79 436.75 270.76 438.56 277.05 440.38 273.15 442.19 263.62 444 254.93 445.81 248.64 447.62 244.36 449.44 241.53 451.25 239.71 453.06 238.62 454.88 238.12 456.69 238.11 458.5 238.59 460.31 239.62 462.12 241.34 463.94 244.04 465.75 248.19 467.56 254.69 469.38 265.21 471.19 283.44 473 320.39 474.81 353.61 476.62 301.7 478.44 274.59 480.25 260 482.06 251.24 483.88 245.65 485.69 241.95 487.5 239.41 489.31 237.64 491.12 236.38 492.94 235.49 494.75 234.86 496.56 234.44 498.38 234.18 500.19 234.05 502 234.05 503.81 234.15 505.62 234.36 507.44 234.67 509.25 235.09 511.06 235.64 512.88 236.31 514.69 237.12 516.5 238.07 518.31 239.17 520.12 240.41 521.94 241.76 523.75 243.15 525.56 244.48 527.38 245.6 529.19 246.36 531 246.63 532.81 246.36 534.62 245.59 536.44 244.46 538.25 243.12 540.06 241.71 541.88 240.35 543.69 239.09 545.5 237.96 547.31 236.97 549.12 236.12 550.94 235.4 552.75 234.79 554.56 234.29 556.38 233.87 558.19 233.53 560 233.27 561.81 233.06 563.62 232.92 565.44 232.82 567.25 232.78 569.06 232.79 570.88 232.85 572.69 232.96 574.5 233.13 576.31 233.35 578.12 233.64 579.94 234.01 581.75 234.46 583.56 235.02 585.38 235.7 587.19 236.53 589 237.55 590.81 238.8 592.62 240.35 594.44 242.27 596.25 244.69 598.06 247.76 599.88 251.66 601.69 256.67 603.5 263.06 605.31 271.07 607.12 280.53 608.94 289.68 610.75 293.86 612.56 289.56 614.38 280.3 616.19 270.74 618 262.62 619.81 256.13 621.62 251.05 623.44 247.07 625.25 243.94 627.06 241.47 628.88 239.5 630.69 237.92 632.5 236.66 634.31 235.63 636.12 234.81 637.94 234.14 639.75 233.6 641.56 233.18 643.38 232.85 645.19 232.59 647 232.41 648.81 232.29 650.62 232.23 652.44 232.23 654.25 232.27 656.06 232.37 657.88 232.51 659.69 232.7 661.5 232.95 663.31 233.24 665.12 233.6 666.94 234.01 668.75 234.5 670.56 235.05 672.38 235.68 674.19 236.4 676 237.22" stroke="#c4c4c4" stroke-width="1.1"/>
<path d="M386 223.73 387.81 223.79 389.62 223.85 391.44 223.92 393.25 224 395.06 224.09 396.88 224.19 398.69 224.3 400.5 224.43 402.31 224.59 404.12 224.77 405.94 224.98 407.75 225.23 409.56 225.54 411.38 225.92 413.19 226.38 415 226.95 416.81 227.66 418.62 228.53 420.44 229.6 422.25 230.92 424.06 232.52 425.88 234.45 427.69 236.75 429.5 239.51 431.31 242.83 433.12 246.86 434.94 251.86 436.75 258.06 438.56 265.45 440.38 273 442.19 277.6 444 276.2 445.81 270.36 447.62 263.76 449.44 258.22 451.25 254.06 453.06 251.08 454.88 249.03 456.69 247.7 458.5 246.95 460.31 246.72 462.12 247.02 463.94 247.94 465.75 249.67 467.56 252.62 469.38 257.58 471.19 266.1 473 281.66 474.81 314.34 476.62 353.61 478.44 306.64 480.25 277.8 482.06 263.41 483.88 255.25 485.69 250.28 487.5 247.07 489.31 244.91 491.12 243.39 492.94 242.29 494.75 241.48 496.56 240.87 498.38 240.4 500.19 240.04 502 239.76 503.81 239.55 505.62 239.38 507.44 239.25 509.25 239.16 511.06 239.1 512.88 239.07 514.69 239.06 516.5 239.08 518.31 239.11 520.12 239.17 521.94 239.25 523.75 239.35 525.56 239.47 527.38 239.63 529.19 239.8 531 240.01 532.81 240.26 534.62 240.54 536.44 240.87 538.25 241.25 540.06 241.69 541.88 242.2 543.69 242.79 545.5 243.48 547.31 244.27 549.12 245.18 550.94 246.23 552.75 247.41 554.56 248.73 556.38 250.16 558.19 251.65 560 253.09 561.81 254.36 563.62 255.3 565.44 255.77 567.25 255.7 569.06 255.13 570.88 254.16 572.69 252.97 574.5 251.7 576.31 250.46 578.12 249.33 579.94 248.35 581.75 247.53 583.56 246.89 585.38 246.41 587.19 246.09 589 245.93 590.81 245.94 592.62 246.13 594.44 246.52 596.25 247.13 598.06 248.03 599.88 249.29 601.69 251.03 603.5 253.43 605.31 256.74 607.12 261.39 608.94 268.06 610.75 277.87 612.56 292.93 614.38 317.55 616.19 352.88 618 330.95 619.81 299.9 621.62 280.99 623.44 268.71 625.25 260.28 627.06 254.28 628.88 249.9 630.69 246.62 632.5 244.12 634.31 242.19 636.12 240.68 637.94 239.5 639.75 238.57 641.56 237.84 643.38 237.26 645.19 236.82 647 236.49 648.81 236.26 650.62 236.1 652.44 236.02 654.25 236.01 656.06 236.05 657.88 236.16 659.69 236.32 661.5 236.54 663.31 236.82 665.12 237.16 666.94 237.56 668.75 238.03 670.56 238.58 672.38 239.21 674.19 239.92 676 240.73" stroke="#c4c4c4" stroke-width="1.1"/>
<path d="M386 224.6 387.81 224.76 389.62 224.95 391.44 225.17 393.25 225.43 395.06 225.75 396.88 226.16 398.69 226.68 400.5 227.38 402.31 228.31 404.12 229.63 405.94 231.54 407.75 234.36 409.56 238.47 411.38 243.75 413.19 248.07 415 248.5 416.81 246.61 418.62 245.42 420.44 245.66 422.25 247.02 424.06 249.19 425.88 252.04 427.69 255.67 429.5 260.3 431.31 266.2 433.12 273.24 434.94 280.04 436.75 283.18 438.56 280.25 440.38 273.69 442.19 266.95 444 261.43 445.81 257.28 447.62 254.24 449.44 252.05 451.25 250.47 453.06 249.36 454.88 248.6 456.69 248.13 458.5 247.89 460.31 247.88 462.12 248.07 463.94 248.49 465.75 249.17 467.56 250.17 469.38 251.58 471.19 253.53 473 256.27 474.81 260.15 476.62 265.75 478.44 274.03 480.25 286.63 482.06 306.25 483.88 332.32 485.69 327.52 487.5 301.57 489.31 283.57 491.12 271.98 492.94 264.3 494.75 259.06 496.56 255.39 498.38 252.76 500.19 250.84 502 249.41 503.81 248.35 505.62 247.54 507.44 246.95 509.25 246.51 511.06 246.2 512.88 245.99 514.69 245.88 516.5 245.86 518.31 245.91 520.12 246.04 521.94 246.25 523.75 246.54 525.56 246.91 527.38 247.37 529.19 247.92 531 248.57 532.81 249.31 534.62 250.13 536.44 251.01 538.25 251.91 540.06 252.76 541.88 253.47 543.69 253.97 545.5 254.17 547.31 254.07 549.12 253.68 550.94 253.07 552.75 252.33 554.56 251.54 556.38 250.77 558.19 250.07 560 249.45 561.81 248.93 563.62 248.51 565.44 248.2 567.25 247.98 569.06 247.85 570.88 247.82 572.69 247.88 574.5 248.02 576.31 248.27 578.12 248.61 579.94 249.06 581.75 249.63 583.56 250.35 585.38 251.22 587.19 252.3 589 253.6 590.81 255.18 592.62 257.11 594.44 259.45 596.25 262.31 598.06 265.76 599.88 269.92 601.69 274.82 603.5 280.35 605.31 286.06 607.12 290.87 608.94 293.12 610.75 291.65 612.56 287.02 614.38 280.86 616.19 274.54 618 268.72 619.81 263.64 621.62 259.3 623.44 255.63 625.25 252.54 627.06 249.94 628.88 247.74 630.69 245.89 632.5 244.34 634.31 243.03 636.12 241.93 637.94 241.02 639.75 240.26 641.56 239.63 643.38 239.12 645.19 238.72 647 238.4 648.81 238.16 650.62 238 652.44 237.9 654.25 237.87 656.06 237.89 657.88 237.98 659.69 238.12 661.5 238.31 663.31 238.57 665.12 238.89 666.94 239.27 668.75 239.72 670.56 240.25 672.38 240.86 674.19 241.55 676 242.35" stroke="#c4c4c4" stroke-width="1.1"/>
<path d="M386 223.63 387.81 223.68 389.62 223.74 391.44 223.8 393.25 223.87 395.06 223.94 396.88 224.03 398.69 224.12 400.5 224.22 402.31 224.34 404.12 224.48 405.94 224.64 407.75 224.82 409.56 225.03 411.38 225.28 413.19 225.58 415 225.94 416.81 226.37 418.62 226.91 420.44 227.57 422.25 228.4 424.06 229.45 425.88 230.81 427.69 232.57 429.5 234.91 431.31 238.05 433.12 242.36 434.94 248.27 436.75 256.03 438.56 264.59 440.38 269.56 442.19 266.59 444 259.1 445.81 252.01 447.62 246.8 449.44 243.33 451.25 241.19 453.06 240.01 454.88 239.57 456.69 239.69 458.5 240.2 460.31 240.88 462.12 241.43 463.94 241.53 465.75 241.01 467.56 239.91 469.38 238.48 471.19 236.98 473 235.58 474.81 234.37 476.62 233.37 478.44 232.55 480.25 231.89 482.06 231.36 483.88 230.95 485.69 230.62 487.5 230.36 489.31 230.17 491.12 230.03 492.94 229.94 494.75 229.9 496.56 229.89 498.38 229.93 500.19 230.01 502 230.14 503.81 230.32 505.62 230.57 507.44 230.89 509.25 231.3 511.06 231.84 512.88 232.53 514.69 233.44 516.5 234.65 518.31 236.28 520.12 238.54 521.94 241.75 523.75 246.43 525.56 253.42 527.38 264.01 529.19 279.42 531 294.89 532.81 290.43 534.62 273.41 536.44 259.82 538.25 250.75 540.06 244.77 541.88 240.75 543.69 237.99 545.5 236.03 547.31 234.63 549.12 233.6 550.94 232.84 552.75 232.27 554.56 231.85 556.38 231.54 558.19 231.32 560 231.18 561.81 231.1 563.62 231.08 565.44 231.11 567.25 231.19 569.06 231.32 570.88 231.5 572.69 231.74 574.5 232.03 576.31 232.39 578.12 232.83 579.94 233.36 581.75 234 583.56 234.77 585.38 235.7 587.19 236.84 589 238.23 590.81 239.95 592.62 242.1 594.44 244.78 596.25 248.18 598.06 252.47 599.88 257.9 601.69 264.65 603.5 272.63 605.31 280.83 607.12 286.33 608.94 285.57 610.75 279.09 612.56 270.66 614.38 262.77 616.19 256.18 618 250.89 619.81 246.69 621.62 243.37 623.44 240.73 625.25 238.61 627.06 236.91 628.88 235.54 630.69 234.42 632.5 233.52 634.31 232.78 636.12 232.18 637.94 231.7 639.75 231.32 641.56 231.02 643.38 230.79 645.19 230.63 647 230.52 648.81 230.46 650.62 230.46 652.44 230.5 654.25 230.59 656.06 230.72 657.88 230.89 659.69 231.11 661.5 231.38 663.31 231.7 665.12 232.08 666.94 232.51 668.75 233.01 670.56 233.58 672.38 234.23 674.19 234.96 676 235.79" stroke="#c4c4c4" stroke-width="1.1"/>
<path d="M386 223.83 387.81 223.88 389.62 223.94 391.44 224.01 393.25 224.08 395.06 224.16 396.88 224.25 398.69 224.34 400.5 224.45 402.31 224.56 404.12 224.69 405.94 224.84 407.75 225.01 409.56 225.21 411.38 225.43 413.19 225.7 415 226.01 416.81 226.38 418.62 226.82 420.44 227.37 422.25 228.04 424.06 228.87 425.88 229.91 427.69 231.23 429.5 232.89 431.31 235.01 433.12 237.72 434.94 241.2 436.75 245.69 438.56 251.46 440.38 258.52 442.19 266.01 444 271.05 445.81 270.29 447.62 264.69 449.44 257.95 451.25 252.16 453.06 247.73 454.88 244.5 456.69 242.18 458.5 240.53 460.31 239.38 462.12 238.61 463.94 238.14 465.75 237.91 467.56 237.9 469.38 238.08 471.19 238.47 473 239.06 474.81 239.89 476.62 240.99 478.44 242.42 480.25 244.26 482.06 246.6 483.88 249.61 485.69 253.45 487.5 258.35 489.31 264.53 491.12 272.05 492.94 280.38 494.75 287.45 496.56 289.48 498.38 284.92 500.19 276.89 502 268.69 503.81 261.62 505.62 255.9 507.44 251.36 509.25 247.78 511.06 244.95 512.88 242.7 514.69 240.9 516.5 239.44 518.31 238.26 520.12 237.29 521.94 236.49 523.75 235.83 525.56 235.28 527.38 234.83 529.19 234.46 531 234.16 532.81 233.91 534.62 233.72 536.44 233.58 538.25 233.48 540.06 233.43 541.88 233.41 543.69 233.45 545.5 233.53 547.31 233.66 549.12 233.85 550.94 234.12 552.75 234.47 554.56 234.93 556.38 235.53 558.19 236.32 560 237.37 561.81 238.77 563.62 240.7 565.44 243.38 567.25 247.24 569.06 252.91 570.88 261.41 572.69 274.01 574.5 289.99 576.31 296.62 578.12 283.81 579.94 268.88 581.75 258.28 583.56 251.3 585.38 246.71 587.19 243.68 589 241.67 590.81 240.36 592.62 239.57 594.44 239.17 596.25 239.12 598.06 239.4 599.88 240.02 601.69 241.03 603.5 242.54 605.31 244.73 607.12 247.86 608.94 252.39 610.75 259.09 612.56 269.31 614.38 285.67 616.19 314.02 618 350.15 619.81 313.84 621.62 285.31 623.44 268.76 625.25 258.36 627.06 251.47 628.88 246.73 630.69 243.38 632.5 240.96 634.31 239.16 636.12 237.82 637.94 236.81 639.75 236.04 641.56 235.45 643.38 235.01 645.19 234.69 647 234.46 648.81 234.31 650.62 234.24 652.44 234.22 654.25 234.27 656.06 234.36 657.88 234.51 659.69 234.72 661.5 234.97 663.31 235.28 665.12 235.64 666.94 236.07 668.75 236.56 670.56 237.13 672.38 237.77 674.19 238.5 676 239.33" stroke="#c4c4c4" stroke-width="1.1"/>
<path d="M386 224.87 387.81 225.02 389.62 225.19 391.44 225.37 393.25 225.59 395.06 225.84 396.88 226.13 398.69 226.48 400.5 226.91 402.31 227.44 404.12 228.1 405.94 228.96 407.75 230.11 409.56 231.68 411.38 233.88 413.19 236.97 415 241.05 416.81 245.39 418.62 248.21 420.44 249.29 422.25 250.52 424.06 253.03 425.88 256.91 427.69 262.01 429.5 268.21 431.31 275.13 433.12 281.65 434.94 285.38 436.75 284.34 438.56 279.55 440.38 273.63 442.19 268.24 444 263.88 445.81 260.54 447.62 258.05 449.44 256.21 451.25 254.9 453.06 253.99 454.88 253.42 456.69 253.13 458.5 253.09 460.31 253.29 462.12 253.74 463.94 254.44 465.75 255.43 467.56 256.76 469.38 258.5 471.19 260.74 473 263.59 474.81 267.19 476.62 271.65 478.44 276.99 480.25 282.92 482.06 288.51 483.88 291.95 485.69 291.54 487.5 287.51 489.31 281.74 491.12 275.89 492.94 270.72 494.75 266.44 496.56 262.99 498.38 260.26 500.19 258.1 502 256.41 503.81 255.09 505.62 254.07 507.44 253.31 509.25 252.75 511.06 252.38 512.88 252.17 514.69 252.11 516.5 252.19 518.31 252.42 520.12 252.8 521.94 253.34 523.75 254.05 525.56 254.95 527.38 256.05 529.19 257.38 531 258.92 532.81 260.66 534.62 262.55 536.44 264.46 538.25 266.21 540.06 267.55 541.88 268.24 543.69 268.11 545.5 267.2 547.31 265.67 549.12 263.79 550.94 261.78 552.75 259.82 554.56 258.01 556.38 256.4 558.19 255 560 253.8 561.81 252.78 563.62 251.93 565.44 251.22 567.25 250.63 569.06 250.16 570.88 249.78 572.69 249.49 574.5 249.28 576.31 249.14 578.12 249.07 579.94 249.08 581.75 249.16 583.56 249.31 585.38 249.55 587.19 249.88 589 250.32 590.81 250.89 592.62 251.62 594.44 252.54 596.25 253.72 598.06 255.21 599.88 257.14 601.69 259.63 603.5 262.9 605.31 267.22 607.12 272.98 608.94 280.69 610.75 290.78 612.56 302.86 614.38 312.58 616.19 310.87 618 299.33 619.81 286.85 621.62 276.61 623.44 268.72 625.25 262.69 627.06 258.05 628.88 254.44 630.69 251.59 632.5 249.33 634.31 247.52 636.12 246.06 637.94 244.89 639.75 243.94 641.56 243.17 643.38 242.56 645.19 242.09 647 241.72 648.81 241.45 650.62 241.26 652.44 241.15 654.25 241.11 656.06 241.14 657.88 241.22 659.69 241.37 661.5 241.57 663.31 241.83 665.12 242.16 666.94 242.55 668.75 243.02 670.56 243.55 672.38 244.17 674.19 244.88 676 245.69" stroke="#c4c4c4" stroke-width="1.1"/>
<path d="M386 223.98 387.81 224.04 389.62 224.12 391.44 224.2 393.25 224.29 395.06 224.39 396.88 224.5 398.69 224.63 400.5 224.78 402.31 224.95 404.12 225.15 405.94 225.39 407.75 225.68 409.56 226.02 411.38 226.45 413.19 226.97 415 227.6 416.81 228.39 418.62 229.36 420.44 230.56 422.25 232.01 424.06 233.78 425.88 235.93 427.69 238.53 429.5 241.73 431.31 245.78 433.12 251.05 434.94 258.09 436.75 267.37 438.56 278.03 440.38 284.61 442.19 280.89 444 271.83 445.81 263.76 447.62 258.1 449.44 254.48 451.25 252.38 453.06 251.4 454.88 251.31 456.69 252 458.5 253.4 460.31 255.46 462.12 258 463.94 260.59 465.75 262.5 467.56 262.92 469.38 261.59 471.19 259.04 473 256.08 474.81 253.31 476.62 250.99 478.44 249.16 480.25 247.8 482.06 246.83 483.88 246.2 485.69 245.87 487.5 245.8 489.31 245.98 491.12 246.42 492.94 247.12 494.75 248.11 496.56 249.44 498.38 251.14 500.19 253.25 502 255.79 503.81 258.71 505.62 261.8 507.44 264.64 509.25 266.59 511.06 267.06 512.88 265.86 514.69 263.39 516.5 260.3 518.31 257.15 520.12 254.27 521.94 251.77 523.75 249.68 525.56 247.97 527.38 246.59 529.19 245.47 531 244.58 532.81 243.88 534.62 243.34 536.44 242.93 538.25 242.64 540.06 242.46 541.88 242.38 543.69 242.4 545.5 242.52 547.31 242.73 549.12 243.06 550.94 243.51 552.75 244.1 554.56 244.85 556.38 245.8 558.19 246.98 560 248.44 561.81 250.24 563.62 252.42 565.44 255.02 567.25 257.99 569.06 261.17 570.88 264.21 572.69 266.49 574.5 267.37 576.31 266.59 578.12 264.41 579.94 261.48 581.75 258.41 583.56 255.56 585.38 253.09 587.19 251.06 589 249.43 590.81 248.15 592.62 247.2 594.44 246.53 596.25 246.12 598.06 245.97 599.88 246.08 601.69 246.51 603.5 247.31 605.31 248.61 607.12 250.59 608.94 253.58 610.75 258.08 612.56 264.96 614.38 275.83 616.19 293.96 618 327.85 619.81 353.61 621.62 310.03 623.44 283.01 625.25 267.31 627.06 257.27 628.88 250.5 630.69 245.76 632.5 242.34 634.31 239.82 636.12 237.93 637.94 236.5 639.75 235.39 641.56 234.55 643.38 233.9 645.19 233.4 647 233.03 648.81 232.77 650.62 232.6 652.44 232.51 654.25 232.48 656.06 232.52 657.88 232.63 659.69 232.79 661.5 233 663.31 233.28 665.12 233.62 666.94 234.02 668.75 234.5 670.56 235.04 672.38 235.67 674.19 236.39 676 237.2" stroke="#c4c4c4" stroke-width="1.1"/>
<path d="M386 223.84 387.81 223.9 389.62 223.96 391.44 224.02 393.25 224.09 395.06 224.17 396.88 224.26 398.69 224.36 400.5 224.48 402.31 224.61 404.12 224.76 405.94 224.93 407.75 225.13 409.56 225.37 411.38 225.66 413.19 226 415 226.42 416.81 226.93 418.62 227.55 420.44 228.32 422.25 229.26 424.06 230.41 425.88 231.84 427.69 233.59 429.5 235.75 431.31 238.45 433.12 241.85 434.94 246.23 436.75 252 438.56 259.64 440.38 269.19 442.19 278.36 444 280.85 445.81 274.77 447.62 266.39 449.44 259.55 451.25 254.72 453.06 251.45 454.88 249.27 456.69 247.85 458.5 246.96 460.31 246.47 462.12 246.29 463.94 246.37 465.75 246.69 467.56 247.24 469.38 248.05 471.19 249.15 473 250.58 474.81 252.42 476.62 254.78 478.44 257.78 480.25 261.58 482.06 266.36 483.88 272.24 485.69 279.11 487.5 286.16 489.31 291.32 491.12 291.91 492.94 287.56 494.75 280.77 496.56 273.86 498.38 267.86 500.19 262.96 502 259.08 503.81 256.05 505.62 253.69 507.44 251.88 509.25 250.51 511.06 249.5 512.88 248.79 514.69 248.35 516.5 248.15 518.31 248.18 520.12 248.44 521.94 248.93 523.75 249.67 525.56 250.66 527.38 251.88 529.19 253.29 531 254.79 532.81 256.19 534.62 257.22 536.44 257.63 538.25 257.28 540.06 256.23 541.88 254.7 543.69 252.96 545.5 251.22 547.31 249.61 549.12 248.19 550.94 246.98 552.75 245.97 554.56 245.13 556.38 244.44 558.19 243.87 560 243.42 561.81 243.06 563.62 242.78 565.44 242.57 567.25 242.42 569.06 242.33 570.88 242.3 572.69 242.33 574.5 242.41 576.31 242.54 578.12 242.74 579.94 243 581.75 243.35 583.56 243.78 585.38 244.33 587.19 245 589 245.85 590.81 246.9 592.62 248.23 594.44 249.93 596.25 252.1 598.06 254.93 599.88 258.66 601.69 263.64 603.5 270.36 605.31 279.45 607.12 291.49 608.94 305.36 610.75 312.88 612.56 304.51 614.38 289.79 616.19 276.94 618 267.05 619.81 259.58 621.62 253.9 623.44 249.52 625.25 246.1 627.06 243.4 628.88 241.25 630.69 239.52 632.5 238.12 634.31 236.99 636.12 236.07 637.94 235.33 639.75 234.74 641.56 234.26 643.38 233.9 645.19 233.62 647 233.42 648.81 233.29 650.62 233.22 652.44 233.21 654.25 233.26 656.06 233.35 657.88 233.5 659.69 233.7 661.5 233.95 663.31 234.25 665.12 234.61 666.94 235.04 668.75 235.53 670.56 236.09 672.38 236.73 674.19 237.45 676 238.27" stroke="#c4c4c4" stroke-width="1.1"/>
<path d="M386 223.83 387.81 223.88 389.62 223.93 391.44 223.99 393.25 224.05 395.06 224.12 396.88 224.2 398.69 224.28 400.5 224.37 402.31 224.47 404.12 224.58 405.94 224.7 407.75 224.84 409.56 225 411.38 225.18 413.19 225.39 415 225.63 416.81 225.92 418.62 226.25 420.44 226.66 422.25 227.15 424.06 227.74 425.88 228.48 427.69 229.41 429.5 230.59 431.31 232.11 433.12 234.1 434.94 236.76 436.75 240.4 438.56 245.48 440.38 252.57 442.19 261.98 444 271.88 445.81 275.46 447.62 269 449.44 259.48 451.25 251.69 453.06 246.22 454.88 242.55 456.69 240.14 458.5 238.62 460.31 237.71 462.12 237.29 463.94 237.24 465.75 237.52 467.56 238.11 469.38 238.99 471.19 240.15 473 241.56 474.81 243.14 476.62 244.76 478.44 246.19 480.25 247.16 482.06 247.45 483.88 247 485.69 245.93 487.5 244.52 489.31 243.01 491.12 241.6 492.94 240.39 494.75 239.43 496.56 238.72 498.38 238.27 500.19 238.07 502 238.11 503.81 238.4 505.62 238.96 507.44 239.81 509.25 240.99 511.06 242.55 512.88 244.57 514.69 247.1 516.5 250.19 518.31 253.82 520.12 257.77 521.94 261.54 523.75 264.23 525.56 264.94 527.38 263.37 529.19 260.15 531 256.24 532.81 252.4 534.62 248.99 536.44 246.15 538.25 243.86 540.06 242.06 541.88 240.68 543.69 239.68 545.5 238.99 547.31 238.6 549.12 238.49 550.94 238.66 552.75 239.13 554.56 239.96 556.38 241.2 558.19 242.98 560 245.45 561.81 248.85 563.62 253.46 565.44 259.63 567.25 267.5 569.06 276.28 570.88 282.65 572.69 281.78 574.5 274.42 576.31 265.57 578.12 257.92 579.94 251.98 581.75 247.51 583.56 244.19 585.38 241.73 587.19 239.9 589 238.55 590.81 237.58 592.62 236.9 594.44 236.47 596.25 236.27 598.06 236.27 599.88 236.48 601.69 236.92 603.5 237.62 605.31 238.65 607.12 240.09 608.94 242.08 610.75 244.82 612.56 248.63 614.38 254 616.19 261.68 618 272.91 619.81 289.56 621.62 312.38 623.44 320.59 625.25 298.67 627.06 278.69 628.88 265.04 630.69 255.68 632.5 249.11 634.31 244.4 636.12 240.96 637.94 238.39 639.75 236.47 641.56 235 643.38 233.87 645.19 233.01 647 232.36 648.81 231.86 650.62 231.5 652.44 231.25 654.25 231.1 656.06 231.04 657.88 231.05 659.69 231.13 661.5 231.28 663.31 231.5 665.12 231.79 666.94 232.14 668.75 232.58 670.56 233.09 672.38 233.68 674.19 234.37 676 235.16" stroke="#c4c4c4" stroke-width="1.1"/>
<path d="M386 224.83 387.81 224.98 389.62 225.16 391.44 225.37 393.25 225.61 395.06 225.9 396.88 226.25 398.69 226.68 400.5 227.24 402.31 227.96 404.12 228.93 405.94 230.28 407.75 232.21 409.56 235 411.38 238.93 413.19 243.63 415 247.06 416.81 247.44 418.62 246.6 420.44 246.6 422.25 247.81 424.06 249.95 425.88 252.78 427.69 256.23 429.5 260.41 431.31 265.47 433.12 271.47 434.94 277.93 436.75 283.26 438.56 284.89 440.38 281.86 442.19 276.19 444 270.27 445.81 265.22 447.62 261.25 449.44 258.25 451.25 256.03 453.06 254.42 454.88 253.29 456.69 252.53 458.5 252.09 460.31 251.92 462.12 252.01 463.94 252.34 465.75 252.92 467.56 253.78 469.38 254.97 471.19 256.55 473 258.6 474.81 261.24 476.62 264.63 478.44 268.93 480.25 274.29 482.06 280.74 483.88 287.81 485.69 294 487.5 296.59 489.31 293.94 491.12 287.7 492.94 280.56 494.75 274.05 496.56 268.61 498.38 264.23 500.19 260.74 502 257.99 503.81 255.8 505.62 254.06 507.44 252.68 509.25 251.58 511.06 250.7 512.88 250.01 514.69 249.46 516.5 249.05 518.31 248.76 520.12 248.56 521.94 248.46 523.75 248.44 525.56 248.52 527.38 248.68 529.19 248.93 531 249.27 532.81 249.73 534.62 250.3 536.44 250.99 538.25 251.83 540.06 252.81 541.88 253.94 543.69 255.2 545.5 256.57 547.31 257.96 549.12 259.26 550.94 260.33 552.75 261.01 554.56 261.19 556.38 260.82 558.19 259.99 560 258.83 561.81 257.5 563.62 256.13 565.44 254.83 567.25 253.64 569.06 252.6 570.88 251.7 572.69 250.96 574.5 250.35 576.31 249.87 578.12 249.51 579.94 249.25 581.75 249.1 583.56 249.05 585.38 249.1 587.19 249.25 589 249.52 590.81 249.91 592.62 250.46 594.44 251.18 596.25 252.12 598.06 253.33 599.88 254.91 601.69 256.96 603.5 259.66 605.31 263.23 607.12 268.03 608.94 274.55 610.75 283.51 612.56 295.76 614.38 311.33 616.19 323.44 618 316.82 619.81 300.2 621.62 285.66 623.44 274.7 625.25 266.54 627.06 260.41 628.88 255.74 630.69 252.11 632.5 249.27 634.31 247.02 636.12 245.22 637.94 243.78 639.75 242.61 641.56 241.68 643.38 240.94 645.19 240.35 647 239.89 648.81 239.54 650.62 239.3 652.44 239.13 654.25 239.05 656.06 239.03 657.88 239.09 659.69 239.21 661.5 239.39 663.31 239.63 665.12 239.94 666.94 240.32 668.75 240.77 670.56 241.29 672.38 241.9 674.19 242.6 676 243.4" stroke="#c4c4c4" stroke-width="1.1"/>
<path d="M386 223.75 387.81 223.8 389.62 223.86 391.44 223.93 393.25 224 395.06 224.08 396.88 224.17 398.69 224.27 400.5 224.39 402.31 224.53 404.12 224.69 405.94 224.88 407.75 225.1 409.56 225.37 411.38 225.71 413.19 226.11 415 226.61 416.81 227.24 418.62 228.01 420.44 228.98 422.25 230.18 424.06 231.66 425.88 233.47 427.69 235.69 429.5 238.4 431.31 241.74 433.12 245.92 434.94 251.27 436.75 258.21 438.56 266.85 440.38 275.61 442.19 279.49 444 275.39 445.81 267.88 447.62 261.24 449.44 256.47 451.25 253.31 453.06 251.36 454.88 250.32 456.69 250.03 458.5 250.42 460.31 251.54 462.12 253.55 463.94 256.81 465.75 261.89 467.56 269.81 469.38 282.09 471.19 299.6 473 311.99 474.81 299.53 476.62 281.94 478.44 269.56 480.25 261.52 482.06 256.27 483.88 252.79 485.69 250.46 487.5 248.9 489.31 247.88 491.12 247.27 492.94 246.98 494.75 246.96 496.56 247.19 498.38 247.65 500.19 248.38 502 249.37 503.81 250.66 505.62 252.26 507.44 254.18 509.25 256.36 511.06 258.66 512.88 260.78 514.69 262.3 516.5 262.83 518.31 262.17 520.12 260.52 521.94 258.26 523.75 255.82 525.56 253.47 527.38 251.37 529.19 249.56 531 248.04 532.81 246.77 534.62 245.71 536.44 244.84 538.25 244.12 540.06 243.52 541.88 243.03 543.69 242.62 545.5 242.28 547.31 242 549.12 241.77 550.94 241.59 552.75 241.44 554.56 241.33 556.38 241.26 558.19 241.21 560 241.19 561.81 241.19 563.62 241.22 565.44 241.28 567.25 241.36 569.06 241.48 570.88 241.62 572.69 241.8 574.5 242.01 576.31 242.26 578.12 242.57 579.94 242.92 581.75 243.35 583.56 243.85 585.38 244.44 587.19 245.15 589 246.01 590.81 247.04 592.62 248.3 594.44 249.85 596.25 251.78 598.06 254.21 599.88 257.29 601.69 261.22 603.5 266.28 605.31 272.75 607.12 280.82 608.94 290.13 610.75 298.4 612.56 300.6 614.38 294.46 616.19 284.45 618 274.69 619.81 266.49 621.62 259.9 623.44 254.66 625.25 250.51 627.06 247.19 628.88 244.53 630.69 242.38 632.5 240.64 634.31 239.23 636.12 238.08 637.94 237.15 639.75 236.4 641.56 235.79 643.38 235.31 645.19 234.94 647 234.65 648.81 234.45 650.62 234.32 652.44 234.26 654.25 234.26 656.06 234.31 657.88 234.42 659.69 234.59 661.5 234.81 663.31 235.09 665.12 235.43 666.94 235.83 668.75 236.31 670.56 236.85 672.38 237.48 674.19 238.19 676 239" stroke="#c4c4c4" stroke-width="1.1"/>
<path d="M386 223.95 387.81 224.02 389.62 224.09 391.44 224.18 393.25 224.27 395.06 224.37 396.88 224.49 398.69 224.62 400.5 224.77 402.31 224.95 404.12 225.16 405.94 225.41 407.75 225.72 409.56 226.09 411.38 226.54 413.19 227.1 415 227.81 416.81 228.69 418.62 229.79 420.44 231.16 422.25 232.84 424.06 234.88 425.88 237.34 427.69 240.32 429.5 243.93 431.31 248.39 433.12 253.95 434.94 260.77 436.75 268.36 438.56 274.48 440.38 275.46 442.19 270.78 444 263.98 445.81 257.76 447.62 252.87 449.44 249.23 451.25 246.57 453.06 244.63 454.88 243.21 456.69 242.18 458.5 241.43 460.31 240.9 462.12 240.55 463.94 240.35 465.75 240.27 467.56 240.31 469.38 240.45 471.19 240.71 473 241.08 474.81 241.58 476.62 242.23 478.44 243.04 480.25 244.07 482.06 245.34 483.88 246.91 485.69 248.86 487.5 251.25 489.31 254.16 491.12 257.6 492.94 261.5 494.75 265.56 496.56 269.09 498.38 271.14 500.19 270.96 502 268.66 503.81 265.07 505.62 261.13 507.44 257.43 509.25 254.23 511.06 251.59 512.88 249.46 514.69 247.77 516.5 246.47 518.31 245.49 520.12 244.78 521.94 244.32 523.75 244.08 525.56 244.06 527.38 244.26 529.19 244.7 531 245.43 532.81 246.5 534.62 247.98 536.44 250.02 538.25 252.75 540.06 256.38 541.88 261.06 543.69 266.77 545.5 272.83 547.31 277.35 549.12 277.78 550.94 273.79 552.75 267.72 554.56 261.73 556.38 256.7 558.19 252.73 560 249.67 561.81 247.34 563.62 245.55 565.44 244.18 567.25 243.12 569.06 242.31 570.88 241.7 572.69 241.23 574.5 240.9 576.31 240.67 578.12 240.55 579.94 240.51 581.75 240.55 583.56 240.68 585.38 240.91 587.19 241.23 589 241.66 590.81 242.22 592.62 242.95 594.44 243.87 596.25 245.05 598.06 246.55 599.88 248.5 601.69 251.04 603.5 254.4 605.31 258.9 607.12 265.01 608.94 273.38 610.75 284.89 612.56 299.95 614.38 314.01 616.19 311.47 618 295.42 619.81 280.23 621.62 268.68 623.44 260.14 625.25 253.77 627.06 248.97 628.88 245.3 630.69 242.45 632.5 240.23 634.31 238.47 636.12 237.08 637.94 235.97 639.75 235.09 641.56 234.39 643.38 233.83 645.19 233.4 647 233.08 648.81 232.85 650.62 232.69 652.44 232.61 654.25 232.59 656.06 232.63 657.88 232.74 659.69 232.89 661.5 233.11 663.31 233.38 665.12 233.72 666.94 234.11 668.75 234.58 670.56 235.12 672.38 235.75 674.19 236.46 676 237.26" stroke="#c4c4c4" stroke-width="1.1"/>
<path d="M386 223.78 387.81 223.83 389.62 223.89 391.44 223.95 393.25 224.02 395.06 224.09 396.88 224.17 398.69 224.26 400.5 224.36 402.31 224.47 404.12 224.6 405.94 224.75 407.75 224.91 409.56 225.11 411.38 225.34 413.19 225.61 415 225.94 416.81 226.34 418.62 226.83 420.44 227.43 422.25 228.18 424.06 229.14 425.88 230.34 427.69 231.87 429.5 233.84 431.31 236.38 433.12 239.67 434.94 243.99 436.75 249.74 438.56 257.45 440.38 267.49 442.19 278.69 444 285.12 445.81 281.11 447.62 272.29 449.44 264.56 451.25 259.08 453.06 255.41 454.88 253.01 456.69 251.48 458.5 250.56 460.31 250.08 462.12 249.96 463.94 250.15 465.75 250.62 467.56 251.38 469.38 252.46 471.19 253.9 473 255.75 474.81 258.09 476.62 260.97 478.44 264.4 480.25 268.27 482.06 272.18 483.88 275.4 485.69 276.95 487.5 276.22 489.31 273.48 491.12 269.66 492.94 265.62 494.75 261.9 496.56 258.69 498.38 256.01 500.19 253.81 502 252.03 503.81 250.58 505.62 249.41 507.44 248.46 509.25 247.69 511.06 247.07 512.88 246.57 514.69 246.17 516.5 245.87 518.31 245.64 520.12 245.48 521.94 245.38 523.75 245.34 525.56 245.36 527.38 245.44 529.19 245.58 531 245.77 532.81 246.04 534.62 246.38 536.44 246.8 538.25 247.31 540.06 247.92 541.88 248.65 543.69 249.51 545.5 250.5 547.31 251.64 549.12 252.91 550.94 254.29 552.75 255.7 554.56 257.05 556.38 258.2 558.19 258.98 560 259.26 561.81 259.01 563.62 258.26 565.44 257.14 567.25 255.82 569.06 254.44 570.88 253.1 572.69 251.87 574.5 250.77 576.31 249.81 578.12 249 579.94 248.31 581.75 247.75 583.56 247.3 585.38 246.95 587.19 246.68 589 246.5 590.81 246.41 592.62 246.4 594.44 246.48 596.25 246.66 598.06 246.95 599.88 247.39 601.69 248.01 603.5 248.87 605.31 250.06 607.12 251.73 608.94 254.09 610.75 257.48 612.56 262.47 614.38 270.02 616.19 281.88 618 301.62 619.81 336.85 621.62 345.24 623.44 305.57 625.25 282.44 627.06 268.39 628.88 259.22 630.69 252.95 632.5 248.52 634.31 245.31 636.12 242.92 637.94 241.12 639.75 239.75 641.56 238.7 643.38 237.9 645.19 237.29 647 236.83 648.81 236.49 650.62 236.26 652.44 236.13 654.25 236.07 656.06 236.08 657.88 236.16 659.69 236.31 661.5 236.51 663.31 236.78 665.12 237.11 666.94 237.51 668.75 237.98 670.56 238.53 672.38 239.15 674.19 239.87 676 240.68" stroke="#c4c4c4" stroke-width="1.1"/>
<path d="M386 224.41 387.81 224.54 389.62 224.69 391.44 224.87 393.25 225.09 395.06 225.35 396.88 225.67 398.69 226.07 400.5 226.6 402.31 227.3 404.12 228.26 405.94 229.63 407.75 231.64 409.56 234.69 411.38 239.27 413.19 245.21 415 249.44 416.81 248.67 418.62 246.13 420.44 244.83 422.25 244.95 424.06 246.09 425.88 248.03 427.69 250.79 429.5 254.54 431.31 259.54 433.12 265.9 434.94 272.99 436.75 278.31 438.56 278.23 440.38 272.87 442.19 265.88 444 259.69 445.81 254.88 447.62 251.33 449.44 248.74 451.25 246.86 453.06 245.51 454.88 244.54 456.69 243.87 458.5 243.43 460.31 243.19 462.12 243.11 463.94 243.18 465.75 243.4 467.56 243.77 469.38 244.31 471.19 245.03 473 245.97 474.81 247.17 476.62 248.69 478.44 250.6 480.25 253.02 482.06 256.06 483.88 259.86 485.69 264.51 487.5 270.01 489.31 275.98 491.12 281.28 492.94 284.02 494.75 282.75 496.56 278.16 498.38 272.21 500.19 266.38 502 261.3 503.81 257.09 505.62 253.68 507.44 250.94 509.25 248.73 511.06 246.95 512.88 245.5 514.69 244.31 516.5 243.33 518.31 242.52 520.12 241.84 521.94 241.27 523.75 240.79 525.56 240.38 527.38 240.03 529.19 239.73 531 239.48 532.81 239.27 534.62 239.08 536.44 238.93 538.25 238.79 540.06 238.68 541.88 238.59 543.69 238.52 545.5 238.47 547.31 238.43 549.12 238.4 550.94 238.39 552.75 238.39 554.56 238.41 556.38 238.44 558.19 238.48 560 238.54 561.81 238.61 563.62 238.7 565.44 238.81 567.25 238.94 569.06 239.08 570.88 239.25 572.69 239.45 574.5 239.67 576.31 239.93 578.12 240.23 579.94 240.58 581.75 240.98 583.56 241.45 585.38 242 587.19 242.64 589 243.41 590.81 244.33 592.62 245.44 594.44 246.8 596.25 248.47 598.06 250.55 599.88 253.18 601.69 256.54 603.5 260.87 605.31 266.48 607.12 273.75 608.94 282.98 610.75 293.77 612.56 303 614.38 303.71 616.19 294.76 618 283.07 619.81 272.68 621.62 264.31 623.44 257.74 625.25 252.59 627.06 248.55 628.88 245.34 630.69 242.79 632.5 240.74 634.31 239.09 636.12 237.76 637.94 236.68 639.75 235.81 641.56 235.11 643.38 234.56 645.19 234.12 647 233.79 648.81 233.54 650.62 233.38 652.44 233.29 654.25 233.26 656.06 233.29 657.88 233.38 659.69 233.53 661.5 233.74 663.31 234.01 665.12 234.34 666.94 234.73 668.75 235.2 670.56 235.73 672.38 236.35 674.19 237.06 676 237.86" stroke="#c4c4c4" stroke-width="1.1"/>
<path d="M386 223.98 387.81 224.06 389.62 224.15 391.44 224.25 393.25 224.37 395.06 224.51 396.88 224.67 398.69 224.86 400.5 225.1 402.31 225.39 404.12 225.78 405.94 226.31 407.75 227.05 409.56 228.18 411.38 229.98 413.19 232.89 415 236.76 416.81 238.62 418.62 236.47 420.44 233.96 422.25 232.78 424.06 232.71 425.88 233.43 427.69 234.81 429.5 236.89 431.31 239.82 433.12 243.94 434.94 249.72 436.75 257.74 438.56 267.8 440.38 276.22 442.19 275.48 444 266.88 445.81 257.88 447.62 251.2 449.44 246.74 451.25 243.97 453.06 242.43 454.88 241.82 456.69 241.87 458.5 242.26 460.31 242.5 462.12 242.13 463.94 241.06 465.75 239.62 467.56 238.21 469.38 237.04 471.19 236.17 473 235.56 474.81 235.18 476.62 234.99 478.44 234.96 480.25 235.07 482.06 235.3 483.88 235.66 485.69 236.13 487.5 236.72 489.31 237.42 491.12 238.21 492.94 239.07 494.75 239.95 496.56 240.8 498.38 241.51 500.19 242.01 502 242.24 503.81 242.15 505.62 241.79 507.44 241.22 509.25 240.52 511.06 239.79 512.88 239.1 514.69 238.48 516.5 237.96 518.31 237.57 520.12 237.31 521.94 237.19 523.75 237.21 525.56 237.38 527.38 237.71 529.19 238.22 531 238.93 532.81 239.87 534.62 241.06 536.44 242.55 538.25 244.35 540.06 246.45 541.88 248.76 543.69 251.08 545.5 253.08 547.31 254.3 549.12 254.43 550.94 253.41 552.75 251.54 554.56 249.25 556.38 246.92 558.19 244.77 560 242.91 561.81 241.36 563.62 240.1 565.44 239.09 567.25 238.32 569.06 237.75 570.88 237.35 572.69 237.11 574.5 237.01 576.31 237.05 578.12 237.24 579.94 237.57 581.75 238.07 583.56 238.75 585.38 239.66 587.19 240.83 589 242.32 590.81 244.23 592.62 246.67 594.44 249.78 596.25 253.76 598.06 258.83 599.88 265.2 601.69 272.86 603.5 281.05 605.31 287.3 607.12 287.81 608.94 282.06 610.75 273.61 612.56 265.37 614.38 258.36 616.19 252.67 618 248.11 619.81 244.47 621.62 241.55 623.44 239.19 625.25 237.28 627.06 235.71 628.88 234.42 630.69 233.36 632.5 232.49 634.31 231.78 636.12 231.19 637.94 230.72 639.75 230.33 641.56 230.03 643.38 229.81 645.19 229.64 647 229.53 648.81 229.47 650.62 229.46 652.44 229.5 654.25 229.59 656.06 229.71 657.88 229.89 659.69 230.1 661.5 230.37 663.31 230.69 665.12 231.06 666.94 231.49 668.75 231.99 670.56 232.56 672.38 233.2 674.19 233.93 676 234.75" stroke="#c4c4c4" stroke-width="1.1"/>
<path d="M386 224.15 387.81 224.28 389.62 224.46 391.44 224.68 393.25 225 395.06 225.46 396.88 226.18 398.69 227.44 400.5 229.8 402.31 233.93 404.12 236.79 405.94 233.67 407.75 230.28 409.56 228.69 411.38 228.16 413.19 228.22 415 228.68 416.81 229.47 418.62 230.57 420.44 231.97 422.25 233.66 424.06 235.64 425.88 237.87 427.69 240.36 429.5 243.14 431.31 246.33 433.12 250.18 434.94 255.08 436.75 261.62 438.56 270.35 440.38 280.7 442.19 287.93 444 285.11 445.81 275.95 447.62 267.3 449.44 261.01 451.25 256.77 453.06 254.01 454.88 252.29 456.69 251.33 458.5 250.93 460.31 251.01 462.12 251.51 463.94 252.42 465.75 253.75 467.56 255.53 469.38 257.78 471.19 260.45 473 263.42 474.81 266.34 476.62 268.66 478.44 269.71 480.25 269.1 482.06 267 483.88 264.01 485.69 260.76 487.5 257.67 489.31 254.94 491.12 252.6 492.94 250.66 494.75 249.04 496.56 247.71 498.38 246.61 500.19 245.7 502 244.94 503.81 244.3 505.62 243.76 507.44 243.31 509.25 242.92 511.06 242.59 512.88 242.31 514.69 242.07 516.5 241.86 518.31 241.69 520.12 241.54 521.94 241.41 523.75 241.3 525.56 241.21 527.38 241.13 529.19 241.07 531 241.02 532.81 240.98 534.62 240.95 536.44 240.94 538.25 240.93 540.06 240.94 541.88 240.95 543.69 240.97 545.5 241 547.31 241.04 549.12 241.09 550.94 241.16 552.75 241.23 554.56 241.31 556.38 241.41 558.19 241.51 560 241.64 561.81 241.78 563.62 241.93 565.44 242.1 567.25 242.3 569.06 242.52 570.88 242.77 572.69 243.04 574.5 243.36 576.31 243.71 578.12 244.11 579.94 244.57 581.75 245.09 583.56 245.69 585.38 246.38 587.19 247.19 589 248.12 590.81 249.23 592.62 250.53 594.44 252.08 596.25 253.94 598.06 256.18 599.88 258.91 601.69 262.26 603.5 266.39 605.31 271.49 607.12 277.79 608.94 285.48 610.75 294.46 612.56 303.68 614.38 309.93 616.19 309.06 618 301.7 619.81 292.22 621.62 283.33 623.44 275.79 625.25 269.62 627.06 264.61 628.88 260.55 630.69 257.25 632.5 254.55 634.31 252.34 636.12 250.52 637.94 249.02 639.75 247.79 641.56 246.77 643.38 245.94 645.19 245.26 647 244.72 648.81 244.29 650.62 243.96 652.44 243.72 654.25 243.57 656.06 243.49 657.88 243.48 659.69 243.54 661.5 243.66 663.31 243.86 665.12 244.12 666.94 244.46 668.75 244.87 670.56 245.36 672.38 245.93 674.19 246.6 676 247.37" stroke="#c4c4c4" stroke-width="1.1"/>
<path d="M386 223.82 387.81 223.89 389.62 223.96 391.44 224.04 393.25 224.14 395.06 224.24 396.88 224.37 398.69 224.51 400.5 224.68 402.31 224.88 404.12 225.13 405.94 225.44 407.75 225.85 409.56 226.39 411.38 227.15 413.19 228.29 415 230.14 416.81 233.4 418.62 239.16 420.44 245.38 422.25 243.39 424.06 238.46 425.88 236.27 427.69 236.24 429.5 237.6 431.31 240.16 433.12 244.03 434.94 249.57 436.75 257.18 438.56 266.5 440.38 274.05 442.19 273.41 444 265.65 445.81 257.17 447.62 250.6 449.44 245.95 451.25 242.73 453.06 240.49 454.88 238.92 456.69 237.82 458.5 237.04 460.31 236.51 462.12 236.16 463.94 235.97 465.75 235.9 467.56 235.95 469.38 236.11 471.19 236.38 473 236.77 474.81 237.27 476.62 237.91 478.44 238.69 480.25 239.59 482.06 240.61 483.88 241.68 485.69 242.71 487.5 243.56 489.31 244.08 491.12 244.18 492.94 243.83 494.75 243.13 496.56 242.23 498.38 241.26 500.19 240.34 502 239.52 503.81 238.84 505.62 238.3 507.44 237.9 509.25 237.64 511.06 237.5 512.88 237.49 514.69 237.61 516.5 237.87 518.31 238.27 520.12 238.84 521.94 239.62 523.75 240.65 525.56 241.99 527.38 243.72 529.19 245.94 531 248.76 532.81 252.25 534.62 256.3 536.44 260.47 538.25 263.76 540.06 264.97 541.88 263.71 543.69 260.89 545.5 257.76 547.31 255.17 549.12 253.49 550.94 252.85 552.75 253.33 554.56 255.02 556.38 258.03 558.19 262.35 560 267.35 561.81 271.18 563.62 271.21 565.44 267.07 567.25 261.16 569.06 255.56 570.88 251.03 572.69 247.57 574.5 245 576.31 243.1 578.12 241.71 579.94 240.7 581.75 239.98 583.56 239.5 585.38 239.22 587.19 239.11 589 239.16 590.81 239.37 592.62 239.74 594.44 240.29 596.25 241.06 598.06 242.08 599.88 243.42 601.69 245.17 603.5 247.48 605.31 250.53 607.12 254.61 608.94 260.15 610.75 267.84 612.56 278.76 614.38 294.77 616.19 318.33 618 338.25 619.81 317.98 621.62 294.06 623.44 277.72 625.25 266.47 627.06 258.48 628.88 252.65 630.69 248.32 632.5 245.04 634.31 242.52 636.12 240.56 637.94 239.03 639.75 237.83 641.56 236.88 643.38 236.13 645.19 235.55 647 235.1 648.81 234.76 650.62 234.52 652.44 234.37 654.25 234.29 656.06 234.28 657.88 234.33 659.69 234.45 661.5 234.64 663.31 234.88 665.12 235.19 666.94 235.56 668.75 236.01 670.56 236.53 672.38 237.14 674.19 237.84 676 238.63" stroke="#c4c4c4" stroke-width="1.1"/>
<path d="M386 223.8C387.93 224.07 389.62 224.72 391.8 224.6C393.98 224.48 396.92 222.87 399.1 223.1C401.28 223.33 403.08 224.42 404.9 226C406.72 227.58 408.42 230.53 410 232.6C411.58 234.67 412.82 237.92 414.4 238.4C415.98 238.88 417.68 236.83 419.5 235.5C421.32 234.17 423.6 230.88 425.3 230.4C427 229.92 428.23 230.77 429.7 232.6C431.17 234.43 432.63 238 434.1 241.4C435.57 244.8 437.17 249.48 438.5 253C439.83 256.52 440.88 261.4 442.1 262.5C443.32 263.6 444.22 261.9 445.8 259.6C447.38 257.3 449.42 251.38 451.6 248.7C453.78 246.02 456.47 244.12 458.9 243.5C461.33 242.88 464.35 244.02 466.2 245C468.05 245.98 468.78 247.57 470 249.4C471.22 251.23 472.42 253.4 473.5 256C474.58 258.6 475.5 261.83 476.5 265C477.5 268.17 478.58 271.75 479.5 275C480.42 278.25 481.15 281.33 482 284.5C482.85 287.67 483.43 290.18 484.6 294C485.77 297.82 487.53 306.43 489 307.4C490.47 308.37 492.07 303.2 493.4 299.8C494.73 296.4 495.78 291.38 497 287C498.22 282.62 498.87 278.18 500.7 273.5C502.53 268.82 505.33 263.28 508 258.9C510.67 254.52 513.78 250.12 516.7 247.2C519.62 244.28 522.37 242.87 525.5 241.4C528.63 239.93 532.5 238.55 535.5 238.4C538.5 238.25 541.03 239.65 543.5 240.5C545.97 241.35 548.38 242.78 550.3 243.5C552.22 244.22 552.72 244.83 555 244.8C557.28 244.77 560.73 243.75 564 243.3C567.27 242.85 571.37 241.82 574.6 242.1C577.83 242.38 580.72 243.42 583.4 245C586.08 246.58 588.27 248.55 590.7 251.6C593.13 254.65 595.82 259.42 598 263.3C600.18 267.18 602.1 271.37 603.8 274.9C605.5 278.43 607.12 282.68 608.2 284.5C609.28 286.32 609.5 286.72 610.3 285.8C611.1 284.88 612.08 281.72 613 279C613.92 276.28 614.87 272.62 615.8 269.5C616.73 266.38 617.65 263.05 618.6 260.3C619.55 257.55 620.53 255.18 621.5 253C622.47 250.82 622.7 249.75 624.4 247.2C626.1 244.65 629.02 240.13 631.7 237.7C634.38 235.27 637.33 233.65 640.5 232.6C643.67 231.55 647.78 231.4 650.7 231.4C653.62 231.4 655.32 231.8 658 232.6C660.68 233.4 663.83 234.7 666.8 236.2C669.77 237.7 672.8 239.8 675.8 241.6" stroke="#0000ff" stroke-width="3.3" stroke-linejoin="round" stroke-linecap="round"/>
</g>
<circle cx="433.4" cy="282.15" r="1.8" fill="#ff0000"/>
<circle cx="485.6" cy="282.15" r="1.8" fill="#ff0000"/>
<path d="M612.6 282.15H623.8" stroke="#ff0000" stroke-width="3"/>
<path d="M444 341.7v-2.5M444 222.6v2.5M502 341.7v-2.5M502 222.6v2.5M560 341.7v-2.5M560 222.6v2.5M618 341.7v-2.5M618 222.6v2.5M386 282.15h2.5M676 282.15h-2.5" stroke="#6a6a6a" stroke-width="1.3" fill="none"/>
<g font-family="Liberation Serif" font-size="18" fill="#333"><text x="378.4" y="228" text-anchor="end">0</text><text x="377.1" y="288.05" text-anchor="end">-10</text><text x="377.1" y="347.6" text-anchor="end">-20</text><text x="385.7" y="366.3" text-anchor="middle">2</text><text x="443.7" y="366.3" text-anchor="middle">4</text><text x="501.7" y="366.3" text-anchor="middle">6</text><text x="559.7" y="366.3" text-anchor="middle">8</text><text x="617.7" y="366.3" text-anchor="middle">10</text><text x="676.5" y="366.3" text-anchor="middle">12</text></g>
<text x="530.7" y="390.9" text-anchor="middle" font-family="Liberation Serif" font-size="20.2" fill="#333">Frequency [GHz]</text>
<path d="M321.2 319.9H340.2M321.2 287.9H340.2" stroke="#c8c8c8" stroke-width="1.3"/><g transform="translate(336 200.9) rotate(-90)" font-family="Liberation Serif" fill="#333"><text x="-118.0" y="0.3" font-size="23" font-style="italic">S</text><text x="-104.6" y="10" font-size="15">11</text><text x="-79.6" y="0" font-size="20">[dB]</text></g>
<clipPath id="pc2"><rect x="382" y="417.9" width="298" height="126"/></clipPath>
<path d="M444 423.9V543M502 423.9V543M560 423.9V543M618 423.9V543M386 483.45H676" stroke="#e6e6e6" stroke-width="1.2" fill="none"/>
<path d="M386 423.9V543H676V423.9Z" stroke="#6e6e6e" stroke-width="1.9" fill="none" stroke-linejoin="round"/>
<g clip-path="url(#pc2)" fill="none">
<path d="M386 423.94 387.45 424.32 388.9 424.7 390.35 425.06 391.8 425.39 393.25 425.72 394.7 426.07 396.15 426.38 397.6 426.6 399.05 426.67 400.5 426.51 401.95 426.15 403.4 425.7 404.85 425.29 406.3 425.05 407.75 424.97 409.2 424.97 410.65 425.25 412.1 425.98 413.55 427.22 415 428.81 416.45 430.45 417.9 431.5 419.35 431.96 420.8 434.18 422.25 437.99 423.7 441.54 425.15 445.17 426.6 449.33 428.05 453.27 429.5 457.09 430.95 461.86 432.4 467.39 433.85 473.65 435.3 479.6 436.75 481.98 438.2 479.12 439.65 472.99 441.1 466.43 442.55 460.65 444 455.85 445.45 451.67 446.9 448.09 448.35 445.07 449.8 442.6 451.25 440.67 452.7 439.13 454.15 437.88 455.6 436.84 457.05 435.96 458.5 435.23 459.95 434.67 461.4 434.42 462.85 434.52 464.3 434.93 465.75 435.54 467.2 436.36 468.65 437.62 470.1 439.59 471.55 442.74 473 446.83 474.45 450.95 475.9 454.84 477.35 458.82 478.8 462.84 480.25 467.16 481.7 471.87 483.15 476.87 484.6 482.37 486.05 486.49 487.5 488.33 488.95 487 490.4 482.66 491.85 476.8 493.3 471.21 494.75 466.35 496.2 461.97 497.65 458.14 499.1 454.85 500.55 452.02 502 449.53 503.45 447.31 504.9 445.3 506.35 443.49 507.8 441.87 509.25 440.42 510.7 439.15 512.15 438.05 513.6 437.1 515.05 436.29 516.5 435.6 517.95 435.06 519.4 434.72 520.85 434.61 522.3 434.76 523.75 435.18 525.2 435.78 526.65 436.51 528.1 437.31 529.55 438.24 531 439.45 532.45 440.74 533.9 441.81 535.35 442.57 536.8 443.18 538.25 443.63 539.7 443.91 541.15 443.99 542.6 443.83 544.05 443.48 545.5 443.02 546.95 442.54 548.4 442.1 549.85 441.64 551.3 441.2 552.75 440.84 554.2 440.61 555.65 440.52 557.1 440.52 558.55 440.58 560 440.69 561.45 440.84 562.9 441.04 564.35 441.3 565.8 441.72 567.25 442.31 568.7 442.91 570.15 443.45 571.6 444 573.05 444.58 574.5 445.23 575.95 446 577.4 446.92 578.85 447.99 580.3 449.18 581.75 450.47 583.2 451.86 584.65 453.33 586.1 454.88 587.55 456.46 589 458.11 590.45 459.87 591.9 461.77 593.35 463.91 594.8 466.35 596.25 469.12 597.7 472.28 599.15 475.89 600.6 479.96 602.05 484.59 603.5 489.81 604.95 495.71 606.4 502.63 607.85 511.11 609.3 521.46 610.75 536.26 612.2 551 613.65 551 615.1 551 616.55 551 618 547.47 619.45 529.26 620.9 514.48 622.35 499.52 623.8 489.48 625.25 482.42 626.7 476.7 628.15 471.75 629.6 467.31 631.05 463.33 632.5 459.81 633.95 456.72 635.4 453.97 636.85 451.49 638.3 449.24 639.75 447.23 641.2 445.45 642.65 443.87 644.1 442.52 645.55 441.35 647 440.3 648.45 439.35 649.9 438.48 651.35 437.68 652.8 436.93 654.25 436.26 655.7 435.72 657.15 435.32 658.6 435.04 660.05 434.87 661.5 434.79 662.95 434.83 664.4 435 665.85 435.26 667.3 435.6 668.75 435.99 670.2 436.43 671.65 437 673.1 437.72 674.55 438.51 676 439.1" stroke="#c4c4c4" stroke-width="1.1"/>
<path d="M386 423.79 387.45 424.15 388.9 424.53 390.35 424.88 391.8 425.19 393.25 425.51 394.7 425.85 396.15 426.14 397.6 426.34 399.05 426.39 400.5 426.2 401.95 425.82 403.4 425.34 404.85 424.9 406.3 424.62 407.75 424.49 409.2 424.44 410.65 424.66 412.1 425.33 413.55 426.49 415 427.98 416.45 429.49 417.9 430.32 419.35 430.33 420.8 432 422.25 435.93 423.7 439.72 425.15 443.24 426.6 447.12 428.05 450.75 429.5 454.33 430.95 459.18 432.4 465.66 433.85 474.8 435.3 486.69 436.75 494.72 438.2 490.73 439.65 480.3 441.1 470.41 442.55 462.64 444 456.73 445.45 451.95 446.9 448.05 448.35 444.86 449.8 442.32 451.25 440.36 452.7 438.83 454.15 437.59 455.6 436.56 457.05 435.7 458.5 434.98 459.95 434.43 461.4 434.18 462.85 434.27 464.3 434.66 465.75 435.23 467.2 436.01 468.65 437.2 470.1 439.08 471.55 442.1 473 446.03 474.45 449.93 475.9 453.54 477.35 457.15 478.8 460.7 480.25 464.42 481.7 468.42 483.15 472.69 484.6 477.7 486.05 482.21 487.5 485.92 488.95 487.4 490.4 485.24 491.85 480.37 493.3 474.92 494.75 469.79 496.2 465.03 497.65 460.8 499.1 457.15 500.55 454.01 502 451.25 503.45 448.81 504.9 446.61 506.35 444.65 507.8 442.89 509.25 441.34 510.7 439.98 512.15 438.79 513.6 437.78 515.05 436.9 516.5 436.16 517.95 435.58 519.4 435.19 520.85 435.03 522.3 435.14 523.75 435.52 525.2 436.07 526.65 436.76 528.1 437.5 529.55 438.37 531 439.5 532.45 440.7 533.9 441.67 535.35 442.31 536.8 442.81 538.25 443.17 539.7 443.44 541.15 443.61 542.6 443.64 544.05 443.5 545.5 443.21 546.95 442.83 548.4 442.44 549.85 441.99 551.3 441.55 552.75 441.18 554.2 440.94 555.65 440.84 557.1 440.83 558.55 440.89 560 440.99 561.45 441.14 562.9 441.34 564.35 441.6 565.8 442.01 567.25 442.61 568.7 443.2 570.15 443.75 571.6 444.29 573.05 444.87 574.5 445.52 575.95 446.29 577.4 447.21 578.85 448.28 580.3 449.46 581.75 450.76 583.2 452.14 584.65 453.62 586.1 455.16 587.55 456.74 589 458.39 590.45 460.14 591.9 462.05 593.35 464.18 594.8 466.62 596.25 469.38 597.7 472.53 599.15 476.13 600.6 480.2 602.05 484.82 603.5 490.03 604.95 495.93 606.4 502.84 607.85 511.3 609.3 521.64 610.75 536.43 612.2 551 613.65 551 615.1 551 616.55 551 618 547.57 619.45 529.36 620.9 514.56 622.35 499.59 623.8 489.55 625.25 482.48 626.7 476.75 628.15 471.79 629.6 467.34 631.05 463.37 632.5 459.84 633.95 456.75 635.4 453.99 636.85 451.5 638.3 449.25 639.75 447.24 641.2 445.45 642.65 443.88 644.1 442.53 645.55 441.35 647 440.3 648.45 439.35 649.9 438.48 651.35 437.68 652.8 436.93 654.25 436.26 655.7 435.72 657.15 435.31 658.6 435.03 660.05 434.87 661.5 434.79 662.95 434.83 664.4 434.99 665.85 435.26 667.3 435.59 668.75 435.99 670.2 436.42 671.65 436.99 673.1 437.72 674.55 438.51 676 439.1" stroke="#c4c4c4" stroke-width="1.1"/>
<path d="M386 423.97 387.45 424.34 388.9 424.73 390.35 425.1 391.8 425.43 393.25 425.77 394.7 426.12 396.15 426.44 397.6 426.66 399.05 426.74 400.5 426.59 401.95 426.23 403.4 425.8 404.85 425.4 406.3 425.18 407.75 425.12 409.2 425.14 410.65 425.44 412.1 426.21 413.55 427.48 415 429.12 416.45 430.83 417.9 432.01 419.35 432.71 420.8 435.08 422.25 438.73 423.7 442.24 425.15 446 426.6 450.38 428.05 454.58 429.5 458.67 430.95 463.57 432.4 468.81 433.85 473.81 435.3 477.33 436.75 477.45 438.2 474.12 439.65 468.74 441.1 463.15 442.55 458.19 444 453.99 445.45 450.24 446.9 446.95 448.35 444.13 449.8 441.81 451.25 439.98 452.7 438.52 454.15 437.32 455.6 436.31 457.05 435.46 458.5 434.75 459.95 434.22 461.4 433.99 462.85 434.1 464.3 434.54 465.75 435.16 467.2 436.02 468.65 437.32 470.1 439.35 471.55 442.59 473 446.8 474.45 451.09 475.9 455.22 477.35 459.54 478.8 464.04 480.25 469.03 481.7 474.66 483.15 480.79 484.6 487.34 486.05 491.58 487.5 491.68 488.95 487.64 490.4 481.27 491.85 474.45 493.3 468.57 494.75 463.74 496.2 459.54 497.65 455.92 499.1 452.85 500.55 450.22 502 447.92 503.45 445.85 504.9 443.98 506.35 442.28 507.8 440.75 509.25 439.4 510.7 438.2 512.15 437.15 513.6 436.26 515.05 435.49 516.5 434.84 517.95 434.34 519.4 434.03 520.85 433.93 522.3 434.11 523.75 434.54 525.2 435.16 526.65 435.91 528.1 436.72 529.55 437.66 531 438.87 532.45 440.15 533.9 441.21 535.35 441.93 536.8 442.44 538.25 442.71 539.7 442.72 541.15 442.49 542.6 442.06 544.05 441.58 545.5 441.16 546.95 440.83 548.4 440.59 549.85 440.31 551.3 440.04 552.75 439.83 554.2 439.71 555.65 439.71 557.1 439.78 558.55 439.9 560 440.06 561.45 440.25 562.9 440.48 564.35 440.77 565.8 441.21 567.25 441.83 568.7 442.44 570.15 443 571.6 443.56 573.05 444.15 574.5 444.82 575.95 445.59 577.4 446.53 578.85 447.6 580.3 448.79 581.75 450.09 583.2 451.49 584.65 452.97 586.1 454.52 587.55 456.11 589 457.77 590.45 459.53 591.9 461.44 593.35 463.58 594.8 466.03 596.25 468.81 597.7 471.97 599.15 475.59 600.6 479.68 602.05 484.31 603.5 489.54 604.95 495.46 606.4 502.39 607.85 510.87 609.3 521.24 610.75 536.06 612.2 551 613.65 551 615.1 551 616.55 551 618 547.33 619.45 529.13 620.9 514.36 622.35 499.41 623.8 489.38 625.25 482.33 626.7 476.62 628.15 471.68 629.6 467.24 631.05 463.28 632.5 459.76 633.95 456.68 635.4 453.93 636.85 451.45 638.3 449.2 639.75 447.2 641.2 445.41 642.65 443.84 644.1 442.5 645.55 441.32 647 440.28 648.45 439.33 649.9 438.46 651.35 437.66 652.8 436.91 654.25 436.24 655.7 435.71 657.15 435.3 658.6 435.02 660.05 434.85 661.5 434.78 662.95 434.82 664.4 434.98 665.85 435.25 667.3 435.58 668.75 435.98 670.2 436.41 671.65 436.98 673.1 437.71 674.55 438.5 676 439.09" stroke="#c4c4c4" stroke-width="1.1"/>
<path d="M386 423.87 387.45 424.24 388.9 424.61 390.35 424.97 391.8 425.28 393.25 425.61 394.7 425.95 396.15 426.25 397.6 426.45 399.05 426.51 400.5 426.33 401.95 425.94 403.4 425.48 404.85 425.04 406.3 424.77 407.75 424.65 409.2 424.61 410.65 424.83 412.1 425.51 413.55 426.67 415 428.17 416.45 429.66 417.9 430.43 419.35 430.2 420.8 431.38 422.25 435.19 423.7 439.41 425.15 443.11 426.6 446.9 428.05 450.25 429.5 453.34 430.95 457.36 432.4 462.46 433.85 469.5 435.3 479.12 436.75 488.03 438.2 489.42 439.65 482.73 441.1 473.86 442.55 465.97 444 459.62 445.45 454.37 446.9 450.05 448.35 446.53 449.8 443.71 451.25 441.54 452.7 439.83 454.15 438.44 455.6 437.3 457.05 436.33 458.5 435.53 459.95 434.91 461.4 434.58 462.85 434.61 464.3 434.94 465.75 435.44 467.2 436.14 468.65 437.25 470.1 439.03 471.55 441.93 473 445.7 474.45 449.4 475.9 452.76 477.35 456.03 478.8 459.14 480.25 462.29 481.7 465.58 483.15 468.99 484.6 473.16 486.05 477.18 487.5 481.41 488.95 484.81 490.4 485.2 491.85 482.28 493.3 477.83 494.75 473 496.2 468.17 497.65 463.69 499.1 459.74 500.55 456.31 502 453.29 503.45 450.6 504.9 448.2 506.35 446.05 507.8 444.15 509.25 442.46 510.7 440.99 512.15 439.72 513.6 438.62 515.05 437.68 516.5 436.89 517.95 436.27 519.4 435.85 520.85 435.67 522.3 435.77 523.75 436.14 525.2 436.7 526.65 437.41 528.1 438.19 529.55 439.11 531 440.32 532.45 441.61 533.9 442.71 535.35 443.5 536.8 444.16 538.25 444.66 539.7 445 541.15 445.11 542.6 444.94 544.05 444.54 545.5 444 546.95 443.44 548.4 442.92 549.85 442.38 551.3 441.88 552.75 441.48 554.2 441.21 555.65 441.08 557.1 441.05 558.55 441.09 560 441.18 561.45 441.32 562.9 441.5 564.35 441.75 565.8 442.16 567.25 442.75 568.7 443.34 570.15 443.87 571.6 444.41 573.05 444.98 574.5 445.63 575.95 446.39 577.4 447.31 578.85 448.37 580.3 449.55 581.75 450.84 583.2 452.23 584.65 453.7 586.1 455.23 587.55 456.81 589 458.46 590.45 460.21 591.9 462.11 593.35 464.24 594.8 466.68 596.25 469.44 597.7 472.59 599.15 476.19 600.6 480.26 602.05 484.87 603.5 490.08 604.95 495.98 606.4 502.88 607.85 511.34 609.3 521.69 610.75 536.48 612.2 551 613.65 551 615.1 551 616.55 551 618 547.61 619.45 529.39 620.9 514.6 622.35 499.63 623.8 489.58 625.25 482.51 626.7 476.78 628.15 471.83 629.6 467.38 631.05 463.4 632.5 459.87 633.95 456.77 635.4 454.02 636.85 451.53 638.3 449.28 639.75 447.27 641.2 445.48 642.65 443.9 644.1 442.55 645.55 441.38 647 440.33 648.45 439.38 649.9 438.5 651.35 437.7 652.8 436.95 654.25 436.28 655.7 435.74 657.15 435.34 658.6 435.06 660.05 434.89 661.5 434.81 662.95 434.85 664.4 435.01 665.85 435.28 667.3 435.61 668.75 436.01 670.2 436.44 671.65 437.01 673.1 437.74 674.55 438.53 676 439.11" stroke="#c4c4c4" stroke-width="1.1"/>
<path d="M386 423.95 387.45 424.32 388.9 424.7 390.35 425.07 391.8 425.39 393.25 425.73 394.7 426.08 396.15 426.39 397.6 426.61 399.05 426.68 400.5 426.51 401.95 426.15 403.4 425.71 404.85 425.29 406.3 425.05 407.75 424.97 409.2 424.96 410.65 425.24 412.1 425.97 413.55 427.19 415 428.77 416.45 430.38 417.9 431.34 419.35 431.56 420.8 433.45 422.25 437.25 423.7 440.87 425.15 444.42 426.6 448.4 428.05 452.05 429.5 455.42 430.95 459.53 432.4 464.12 433.85 469.29 435.3 474.66 436.75 477.9 438.2 476.86 439.65 472.15 441.1 466.32 442.55 460.82 444 456.09 445.45 451.89 446.9 448.24 448.35 445.15 449.8 442.61 451.25 440.62 452.7 439.03 454.15 437.73 455.6 436.64 457.05 435.72 458.5 434.95 459.95 434.35 461.4 434.06 462.85 434.12 464.3 434.48 465.75 435.04 467.2 435.8 468.65 436.99 470.1 438.88 471.55 441.93 473 445.91 474.45 449.87 475.9 453.57 477.35 457.31 478.8 461.01 480.25 464.93 481.7 469.12 483.15 473.5 484.6 478.37 486.05 482.16 487.5 484.42 488.95 484.22 490.4 481.03 491.85 475.94 493.3 470.77 494.75 466.09 496.2 461.8 497.65 457.99 499.1 454.69 500.55 451.85 502 449.35 503.45 447.12 504.9 445.1 506.35 443.28 507.8 441.64 509.25 440.2 510.7 438.92 512.15 437.81 513.6 436.86 515.05 436.05 516.5 435.36 517.95 434.83 519.4 434.49 520.85 434.38 522.3 434.54 523.75 434.96 525.2 435.58 526.65 436.32 528.1 437.13 529.55 438.07 531 439.3 532.45 440.61 533.9 441.72 535.35 442.53 536.8 443.23 538.25 443.82 539.7 444.32 541.15 444.67 542.6 444.76 544.05 444.56 545.5 444.1 546.95 443.51 548.4 442.9 549.85 442.26 551.3 441.66 552.75 441.17 554.2 440.83 555.65 440.64 557.1 440.57 558.55 440.58 560 440.64 561.45 440.76 562.9 440.93 564.35 441.17 565.8 441.56 567.25 442.14 568.7 442.73 570.15 443.26 571.6 443.79 573.05 444.37 574.5 445.01 575.95 445.77 577.4 446.69 578.85 447.76 580.3 448.94 581.75 450.23 583.2 451.61 584.65 453.09 586.1 454.63 587.55 456.21 589 457.87 590.45 459.62 591.9 461.53 593.35 463.66 594.8 466.11 596.25 468.88 597.7 472.05 599.15 475.66 600.6 479.74 602.05 484.37 603.5 489.6 604.95 495.52 606.4 502.44 607.85 510.93 609.3 521.3 610.75 536.11 612.2 551 613.65 551 615.1 551 616.55 551 618 547.37 619.45 529.17 620.9 514.4 622.35 499.45 623.8 489.42 625.25 482.37 626.7 476.66 628.15 471.71 629.6 467.28 631.05 463.31 632.5 459.79 633.95 456.7 635.4 453.96 636.85 451.47 638.3 449.23 639.75 447.23 641.2 445.44 642.65 443.87 644.1 442.52 645.55 441.35 647 440.3 648.45 439.35 649.9 438.48 651.35 437.68 652.8 436.93 654.25 436.27 655.7 435.73 657.15 435.32 658.6 435.04 660.05 434.87 661.5 434.79 662.95 434.83 664.4 435 665.85 435.26 667.3 435.6 668.75 435.99 670.2 436.43 671.65 437 673.1 437.73 674.55 438.52 676 439.1" stroke="#c4c4c4" stroke-width="1.1"/>
<path d="M386 424.06 387.45 424.44 388.9 424.83 390.35 425.2 391.8 425.54 393.25 425.88 394.7 426.24 396.15 426.57 397.6 426.8 399.05 426.89 400.5 426.74 401.95 426.4 403.4 425.98 404.85 425.59 406.3 425.38 407.75 425.33 409.2 425.37 410.65 425.69 412.1 426.49 413.55 427.79 415 429.47 416.45 431.26 417.9 432.63 419.35 433.78 420.8 436.6 422.25 440.32 423.7 443.83 425.15 447.65 426.6 452.1 428.05 456.34 429.5 460.37 430.95 465.01 432.4 469.59 433.85 473.4 435.3 475.56 436.75 475.12 438.2 472.22 439.65 467.62 441.1 462.74 442.55 458.3 444 454.46 445.45 450.96 446.9 447.85 448.35 445.16 449.8 442.93 451.25 441.18 452.7 439.78 454.15 438.63 455.6 437.68 457.05 436.88 458.5 436.22 459.95 435.74 461.4 435.56 462.85 435.73 464.3 436.23 465.75 436.93 467.2 437.86 468.65 439.24 470.1 441.35 471.55 444.65 473 448.93 474.45 453.24 475.9 457.34 477.35 461.51 478.8 465.67 480.25 469.98 481.7 474.36 483.15 478.41 484.6 481.98 486.05 483.23 487.5 482.36 488.95 479.94 490.4 476.15 491.85 471.56 493.3 467.27 494.75 463.49 496.2 459.96 497.65 456.76 499.1 453.95 500.55 451.48 502 449.26 503.45 447.24 504.9 445.39 506.35 443.69 507.8 442.16 509.25 440.78 510.7 439.57 512.15 438.5 513.6 437.58 515.05 436.79 516.5 436.12 517.95 435.6 519.4 435.27 520.85 435.16 522.3 435.32 523.75 435.74 525.2 436.34 526.65 437.07 528.1 437.87 529.55 438.79 531 439.99 532.45 441.26 533.9 442.31 535.35 443.04 536.8 443.59 538.25 443.96 539.7 444.13 541.15 444.09 542.6 443.82 544.05 443.43 545.5 442.99 546.95 442.58 548.4 442.23 549.85 441.85 551.3 441.48 552.75 441.18 554.2 441 555.65 440.94 557.1 440.97 558.55 441.06 560 441.19 561.45 441.36 562.9 441.57 564.35 441.84 565.8 442.27 567.25 442.87 568.7 443.47 570.15 444.02 571.6 444.57 573.05 445.15 574.5 445.81 575.95 446.57 577.4 447.5 578.85 448.57 580.3 449.76 581.75 451.05 583.2 452.43 584.65 453.91 586.1 455.45 587.55 457.03 589 458.68 590.45 460.43 591.9 462.33 593.35 464.45 594.8 466.89 596.25 469.65 597.7 472.8 599.15 476.39 600.6 480.46 602.05 485.06 603.5 490.27 604.95 496.15 606.4 503.05 607.85 511.5 609.3 521.84 610.75 536.62 612.2 551 613.65 551 615.1 551 616.55 551 618 547.7 619.45 529.47 620.9 514.66 622.35 499.68 623.8 489.63 625.25 482.55 626.7 476.82 628.15 471.85 629.6 467.4 631.05 463.41 632.5 459.88 633.95 456.78 635.4 454.03 636.85 451.53 638.3 449.28 639.75 447.27 641.2 445.48 642.65 443.9 644.1 442.55 645.55 441.37 647 440.32 648.45 439.37 649.9 438.5 651.35 437.69 652.8 436.94 654.25 436.28 655.7 435.73 657.15 435.33 658.6 435.05 660.05 434.88 661.5 434.8 662.95 434.84 664.4 435 665.85 435.27 667.3 435.6 668.75 436 670.2 436.43 671.65 437 673.1 437.73 674.55 438.52 676 439.11" stroke="#c4c4c4" stroke-width="1.1"/>
<path d="M386 424.1C387.93 424.6 389.62 425.12 391.8 425.6C393.98 426.08 396.67 427 399.1 427C401.53 427 404.22 425.6 406.4 425.6C408.58 425.6 410.27 425.42 412.2 427C414.13 428.58 416.05 431.57 418 435.1C419.95 438.63 422.18 443.58 423.9 448.2C425.62 452.82 426.85 458.55 428.3 462.8C429.75 467.05 431.15 472.97 432.6 473.7C434.05 474.43 435.28 470.48 437 467.2C438.72 463.92 440.7 458.13 442.9 454C445.1 449.87 447.53 445.2 450.2 442.4C452.87 439.6 456.47 437.93 458.9 437.2C461.33 436.47 462.95 437.02 464.8 438C466.65 438.98 468.4 440.18 470 443.1C471.6 446.02 472.93 451.25 474.4 455.5C475.87 459.75 477.47 464.7 478.8 468.6C480.13 472.5 481.32 476.47 482.4 478.9C483.48 481.33 484.2 483.45 485.3 483.2C486.4 482.95 487.65 480.32 489 477.4C490.35 474.48 491.7 469.6 493.4 465.7C495.1 461.8 497.02 457.53 499.2 454C501.38 450.47 504.07 447.05 506.5 444.5C508.93 441.95 511.37 440.03 513.8 438.7C516.23 437.37 518.67 436.38 521.1 436.5C523.53 436.62 526.22 438.18 528.4 439.4C530.58 440.62 532.25 442.82 534.2 443.8C536.15 444.78 537.9 445.3 540.1 445.3C542.3 445.3 544.97 444.28 547.4 443.8C549.83 443.32 552.03 442.52 554.7 442.4C557.37 442.28 561.12 442.7 563.4 443.1C565.68 443.5 566.15 443.88 568.4 444.8C570.65 445.72 574.08 446.73 576.9 448.6C579.72 450.47 582.48 453.02 585.3 456C588.12 458.98 591.33 462.47 593.8 466.5C596.27 470.53 598.17 474.75 600.1 480.2C602.03 485.65 603.92 492.5 605.4 499.2C606.88 505.9 608.05 513.35 609 520.4C609.95 527.45 610.52 534.9 611.1 541.5C611.68 548.1 611.52 556.92 612.5 560C613.48 563.08 616.02 563.08 617 560C617.98 556.92 617.77 548.82 618.4 541.5C619.03 534.18 619.98 524.2 620.8 516.1C621.62 508 622.17 499.93 623.3 492.9C624.43 485.87 625.83 479.88 627.6 473.9C629.37 467.92 631.45 461.93 633.9 457C636.35 452.07 639.13 447.65 642.3 444.3C645.47 440.95 649.72 438.48 652.9 436.9C656.08 435.32 658.58 434.9 661.4 434.8C664.22 434.7 667.42 435.58 669.8 436.3C672.18 437.02 673.73 438.17 675.7 439.1" stroke="#0000ff" stroke-width="3.3" stroke-linejoin="round" stroke-linecap="round"/>
</g>
<circle cx="433.4" cy="483.45" r="1.8" fill="#ff0000"/>
<circle cx="485.6" cy="483.45" r="1.8" fill="#ff0000"/>
<path d="M612.6 483.45H623.8" stroke="#ff0000" stroke-width="3"/>
<path d="M444 543v-2.5M444 423.9v2.5M502 543v-2.5M502 423.9v2.5M560 543v-2.5M560 423.9v2.5M618 543v-2.5M618 423.9v2.5M386 483.45h2.5M676 483.45h-2.5" stroke="#6a6a6a" stroke-width="1.3" fill="none"/>
<g font-family="Liberation Serif" font-size="18" fill="#333"><text x="378.4" y="430.2" text-anchor="end">0</text><text x="377.1" y="490.25" text-anchor="end">-10</text><text x="377.1" y="549.8" text-anchor="end">-20</text><text x="385.7" y="567.3" text-anchor="middle">2</text><text x="443.7" y="567.3" text-anchor="middle">4</text><text x="501.7" y="567.3" text-anchor="middle">6</text><text x="559.7" y="567.3" text-anchor="middle">8</text><text x="617.7" y="567.3" text-anchor="middle">10</text><text x="676.5" y="567.3" text-anchor="middle">12</text></g>
<text x="530.7" y="591.9" text-anchor="middle" font-family="Liberation Serif" font-size="20.2" fill="#333">Frequency [GHz]</text>
<path d="M321.2 521.2H340.2M321.2 489.2H340.2" stroke="#c8c8c8" stroke-width="1.3"/><g transform="translate(336 402.2) rotate(-90)" font-family="Liberation Serif" fill="#333"><text x="-118.0" y="0.3" font-size="23" font-style="italic">S</text><text x="-104.6" y="10" font-size="15">11</text><text x="-79.6" y="0" font-size="20">[dB]</text></g>
</svg>
</body></html>
